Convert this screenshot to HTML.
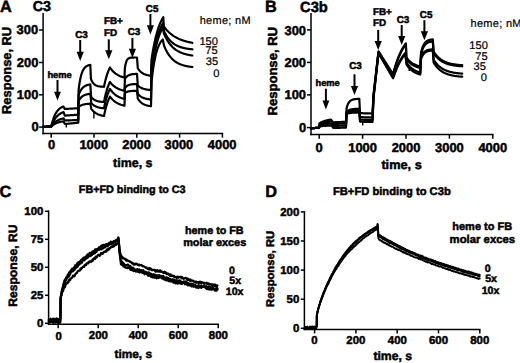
<!DOCTYPE html>
<html><head><meta charset="utf-8"><style>
html,body{margin:0;padding:0;background:#fff;}
svg{display:block;}
text{font-family:"Liberation Sans",sans-serif;fill:#000;stroke:#000;stroke-width:0.50px;text-rendering:geometricPrecision;}
</style></head><body>
<svg width="520" height="363" viewBox="0 0 520 363">
<rect width="520" height="363" fill="#fff"/>
<line x1="43.10" y1="13.00" x2="43.10" y2="134.25" stroke="#000" stroke-width="1.50"/>
<line x1="42.35" y1="133.50" x2="223.15" y2="133.50" stroke="#000" stroke-width="1.50"/>
<line x1="39.10" y1="30.00" x2="43.10" y2="30.00" stroke="#000" stroke-width="1.50"/>
<text x="38.16" y="34.40" font-size="12.92" font-weight="bold" text-anchor="end">300</text>
<line x1="39.10" y1="62.50" x2="43.10" y2="62.50" stroke="#000" stroke-width="1.50"/>
<text x="38.42" y="66.82" font-size="12.92" font-weight="bold" text-anchor="end">200</text>
<line x1="39.10" y1="94.80" x2="43.10" y2="94.80" stroke="#000" stroke-width="1.50"/>
<text x="38.42" y="99.12" font-size="12.92" font-weight="bold" text-anchor="end">100</text>
<line x1="39.10" y1="127.10" x2="43.10" y2="127.10" stroke="#000" stroke-width="1.50"/>
<text x="38.68" y="131.34" font-size="12.92" font-weight="bold" text-anchor="end">0</text>
<line x1="51.20" y1="133.50" x2="51.20" y2="137.70" stroke="#000" stroke-width="1.50"/>
<text x="51.50" y="149.21" font-size="12.92" font-weight="bold" text-anchor="middle">0</text>
<line x1="94.00" y1="133.50" x2="94.00" y2="137.70" stroke="#000" stroke-width="1.50"/>
<text x="93.80" y="149.25" font-size="12.92" font-weight="bold" text-anchor="middle">1000</text>
<line x1="136.80" y1="133.50" x2="136.80" y2="137.70" stroke="#000" stroke-width="1.50"/>
<text x="136.60" y="149.25" font-size="12.92" font-weight="bold" text-anchor="middle">2000</text>
<line x1="179.60" y1="133.50" x2="179.60" y2="137.70" stroke="#000" stroke-width="1.50"/>
<text x="178.90" y="149.29" font-size="12.92" font-weight="bold" text-anchor="middle">3000</text>
<line x1="222.40" y1="133.50" x2="222.40" y2="137.70" stroke="#000" stroke-width="1.50"/>
<text x="222.20" y="149.25" font-size="12.92" font-weight="bold" text-anchor="middle">4000</text>
<text x="0.08" y="12.29" font-size="16.31" font-weight="bold" text-anchor="start">A</text>
<text x="32.72" y="10.80" font-size="14.29" font-weight="bold" text-anchor="start">C3</text>
<text x="132.78" y="167.17" font-size="12.45" font-weight="bold" text-anchor="middle">time, s</text>
<text x="0" y="0" font-size="12.85" font-weight="bold" text-anchor="middle" transform="translate(10.98 70.39) rotate(-90)">Response, RU</text>
<text x="199.66" y="23.72" font-size="10.98" font-weight="normal" text-anchor="start" letter-spacing="0.30" style="stroke-width:0.2px">heme; nM</text>
<text x="217.98" y="44.75" font-size="11.12" font-weight="normal" text-anchor="end" style="stroke-width:0.2px">150</text>
<text x="217.59" y="54.18" font-size="11.12" font-weight="normal" text-anchor="end" style="stroke-width:0.2px">75</text>
<text x="218.14" y="65.19" font-size="11.12" font-weight="normal" text-anchor="end" style="stroke-width:0.2px">35</text>
<text x="219.34" y="77.45" font-size="11.12" font-weight="normal" text-anchor="end" style="stroke-width:0.2px">0</text>
<text x="59.60" y="77.91" font-size="9.32" font-weight="bold" text-anchor="middle">heme</text>
<line x1="57.50" y1="80.00" x2="57.50" y2="92.70" stroke="#000" stroke-width="2.00"/>
<path d="M54.10 91.70 L60.90 91.70 L57.50 100.40 Z" fill="#000"/>
<text x="81.50" y="38.41" font-size="9.87" font-weight="bold" text-anchor="middle">C3</text>
<line x1="80.20" y1="40.00" x2="80.20" y2="52.70" stroke="#000" stroke-width="2.00"/>
<path d="M76.60 51.70 L83.80 51.70 L80.20 60.90 Z" fill="#000"/>
<text x="113.33" y="24.18" font-size="9.87" font-weight="bold" text-anchor="middle">FB+</text>
<text x="110.51" y="35.78" font-size="9.87" font-weight="bold" text-anchor="middle">FD</text>
<line x1="108.80" y1="39.30" x2="108.80" y2="51.20" stroke="#000" stroke-width="2.00"/>
<path d="M105.20 50.20 L112.40 50.20 L108.80 59.20 Z" fill="#000"/>
<text x="133.94" y="35.49" font-size="9.87" font-weight="bold" text-anchor="middle">C3</text>
<line x1="132.40" y1="37.90" x2="132.40" y2="49.80" stroke="#000" stroke-width="2.00"/>
<path d="M128.80 48.80 L136.00 48.80 L132.40 57.90 Z" fill="#000"/>
<text x="152.10" y="11.79" font-size="9.87" font-weight="bold" text-anchor="middle">C5</text>
<line x1="150.40" y1="14.00" x2="150.40" y2="26.30" stroke="#000" stroke-width="2.00"/>
<path d="M146.80 25.30 L154.00 25.30 L150.40 34.40 Z" fill="#000"/>
<path d="M43.00 126.80 L43.41 126.79 L43.82 126.78 L44.23 126.77 L44.64 126.76 L45.05 126.75 L45.46 126.74 L45.87 126.73 L46.28 126.72 L46.69 126.71 L47.10 126.70 L47.51 126.69 L47.92 126.68 L48.33 126.67 L48.74 126.66 L49.15 126.65 L49.56 126.64 L49.97 126.63 L50.38 126.62 L50.79 126.61 L51.20 126.60 L51.61 124.88 L52.01 123.29 L52.42 121.82 L52.83 120.47 L53.24 119.22 L53.64 118.08 L54.05 117.02 L54.46 116.04 L54.86 115.14 L55.27 114.31 L55.68 113.55 L56.09 112.85 L56.49 112.20 L56.90 111.60 L57.31 111.05 L57.71 110.54 L58.12 110.07 L58.53 109.64 L58.94 109.24 L59.34 108.87 L59.75 108.53 L60.16 108.22 L60.56 107.93 L60.97 107.67 L61.38 107.42 L61.79 107.20 L62.19 106.99 L62.60 106.80 L63.40 106.40 L63.87 107.27 L64.33 108.13 L64.80 109.00 L65.21 108.98 L65.62 108.95 L66.03 108.93 L66.44 108.90 L66.85 108.88 L67.25 108.85 L67.66 108.83 L68.07 108.81 L68.48 108.78 L68.89 108.76 L69.30 108.73 L69.71 108.71 L70.12 108.68 L70.53 108.66 L70.94 108.64 L71.35 108.61 L71.75 108.59 L72.16 108.56 L72.57 108.54 L72.98 108.52 L73.39 108.49 L73.80 108.47 L74.21 108.44 L74.62 108.42 L75.03 108.39 L75.44 108.37 L75.85 108.35 L76.25 108.32 L76.66 108.30 L77.07 108.27 L77.48 108.25 L77.89 108.22 L78.30 108.20 L78.60 90.00 L79.00 86.78 L79.41 83.96 L79.81 81.49 L80.21 79.34 L80.62 77.46 L81.02 75.81 L81.42 74.37 L81.83 73.12 L82.23 72.02 L82.63 71.06 L83.04 70.22 L83.44 69.48 L83.84 68.84 L84.25 68.28 L84.65 67.79 L85.06 67.36 L85.46 66.99 L85.86 66.66 L86.27 66.37 L86.67 66.12 L87.07 65.90 L87.48 65.71 L87.88 65.54 L88.28 65.40 L88.69 65.27 L89.09 65.16 L89.49 65.06 L89.90 64.97 L90.30 64.90 L90.90 78.70 L91.31 79.75 L91.72 80.66 L92.13 81.46 L92.54 82.15 L92.95 82.76 L93.36 83.29 L93.77 83.75 L94.18 84.15 L94.58 84.50 L94.99 84.81 L95.40 85.08 L95.81 85.31 L96.22 85.51 L96.63 85.69 L97.04 85.84 L97.45 85.98 L97.86 86.10 L98.27 86.20 L98.68 86.29 L99.09 86.37 L99.50 86.44 L99.91 86.50 L100.32 86.55 L100.72 86.59 L101.13 86.63 L101.54 86.67 L101.95 86.70 L102.36 86.72 L102.77 86.75 L103.18 86.77 L103.59 86.78 L104.00 86.80 L104.40 84.83 L104.80 82.99 L105.20 81.27 L105.60 79.65 L106.00 78.15 L106.40 76.73 L106.80 75.41 L107.20 74.18 L107.60 73.02 L108.00 71.94 L108.40 70.93 L108.80 69.99 L109.20 69.10 L109.60 68.27 L110.00 67.50 L110.40 68.09 L110.81 68.66 L111.21 69.19 L111.61 69.70 L112.01 70.19 L112.42 70.65 L112.82 71.09 L113.22 71.50 L113.62 71.90 L114.03 72.27 L114.43 72.63 L114.83 72.97 L115.24 73.30 L115.64 73.61 L116.04 73.90 L116.44 74.18 L116.85 74.44 L117.25 74.69 L117.65 74.93 L118.06 75.16 L118.46 75.38 L118.86 75.58 L119.26 75.78 L119.67 75.97 L120.07 76.14 L120.47 76.31 L120.88 76.47 L121.28 76.62 L121.68 76.77 L122.08 76.91 L122.49 77.04 L122.89 77.16 L123.29 77.28 L123.69 77.39 L124.10 77.50 L124.50 77.60 L124.90 68.00 L125.30 65.52 L125.71 63.63 L126.11 62.18 L126.51 61.08 L126.92 60.23 L127.32 59.59 L127.72 59.10 L128.13 58.72 L128.53 58.43 L128.93 58.21 L129.34 58.04 L129.74 57.91 L130.14 57.82 L130.55 57.74 L130.95 57.68 L131.35 57.64 L131.76 57.61 L132.16 57.58 L132.56 57.56 L132.97 57.55 L133.37 57.53 L133.77 57.53 L134.18 57.52 L134.58 57.51 L134.98 57.51 L135.39 57.51 L135.79 57.50 L136.19 57.50 L136.60 57.50 L137.00 57.50 L137.40 62.80 L137.80 68.10 L138.21 68.76 L138.62 69.36 L139.04 69.92 L139.45 70.43 L139.86 70.90 L140.28 71.34 L140.69 71.74 L141.10 72.11 L141.51 72.45 L141.93 72.76 L142.34 73.05 L142.75 73.31 L143.16 73.55 L143.58 73.78 L143.99 73.99 L144.40 74.18 L144.81 74.35 L145.22 74.51 L145.64 74.66 L146.05 74.80 L146.46 74.93 L146.88 75.04 L147.29 75.15 L147.70 75.25 L148.11 75.34 L148.53 75.42 L148.94 75.50 L149.35 75.57 L149.76 75.63 L150.18 75.69 L150.59 75.75 L151.00 75.80 L151.50 60.00 L151.91 57.25 L152.31 54.63 L152.72 52.15 L153.13 49.78 L153.53 47.54 L153.94 45.40 L154.35 43.38 L154.76 41.45 L155.16 39.62 L155.57 37.87 L155.98 36.22 L156.38 34.65 L156.79 33.15 L157.20 31.73 L157.60 30.38 L158.01 29.10 L158.42 27.88 L158.82 26.72 L159.23 25.62 L159.64 24.57 L160.04 23.58 L160.45 22.63 L160.86 21.73 L161.27 20.88 L161.67 20.06 L162.08 19.29 L162.49 18.56 L162.89 17.86 L163.30 17.20 L163.80 26.50 L164.20 27.03 L164.61 27.55 L165.01 28.05 L165.41 28.54 L165.81 29.01 L166.22 29.47 L166.62 29.92 L167.02 30.35 L167.43 30.77 L167.83 31.18 L168.23 31.58 L168.63 31.97 L169.04 32.34 L169.44 32.71 L169.84 33.06 L170.25 33.41 L170.65 33.74 L171.05 34.07 L171.45 34.39 L171.86 34.69 L172.26 34.99 L172.66 35.28 L173.06 35.57 L173.47 35.84 L173.87 36.11 L174.27 36.36 L174.68 36.62 L175.08 36.86 L175.48 37.10 L175.88 37.33 L176.29 37.55 L176.69 37.77 L177.09 37.98 L177.50 38.19 L177.90 38.39 L178.30 38.58 L178.70 38.77 L179.11 38.95 L179.51 39.13 L179.91 39.30 L180.32 39.47 L180.72 39.63 L181.12 39.79 L181.52 39.95 L181.93 40.10 L182.33 40.24 L182.73 40.38 L183.14 40.52 L183.54 40.66 L183.94 40.78 L184.34 40.91 L184.75 41.03 L185.15 41.15 L185.55 41.27 L185.95 41.38 L186.36 41.49 L186.76 41.60 L187.16 41.70 L187.57 41.80 L187.97 41.90 L188.37 41.99 L188.77 42.08 L189.18 42.17 L189.58 42.26 L189.98 42.34 L190.39 42.42 L190.79 42.50 L191.19 42.58 L191.59 42.66 L192.00 42.73 L192.40 42.80" fill="none" stroke="#000" stroke-width="2.20" stroke-linejoin="round" stroke-linecap="round" />
<path d="M43.00 126.80 L43.41 126.79 L43.82 126.78 L44.23 126.77 L44.64 126.76 L45.05 126.75 L45.46 126.74 L45.87 126.73 L46.28 126.72 L46.69 126.71 L47.10 126.70 L47.51 126.69 L47.92 126.68 L48.33 126.67 L48.74 126.66 L49.15 126.65 L49.56 126.64 L49.97 126.63 L50.38 126.62 L50.79 126.61 L51.20 126.60 L51.61 125.51 L52.01 124.49 L52.42 123.54 L52.83 122.65 L53.23 121.82 L53.64 121.04 L54.05 120.32 L54.46 119.64 L54.86 119.00 L55.27 118.41 L55.68 117.86 L56.08 117.34 L56.49 116.86 L56.90 116.41 L57.30 115.99 L57.71 115.59 L58.12 115.22 L58.52 114.88 L58.93 114.56 L59.34 114.26 L59.74 113.98 L60.15 113.71 L60.56 113.47 L60.97 113.24 L61.37 113.02 L61.78 112.82 L62.19 112.64 L62.59 112.46 L63.00 112.30 L63.60 112.10 L64.20 113.85 L64.80 115.60 L65.21 115.57 L65.62 115.55 L66.03 115.52 L66.44 115.49 L66.85 115.46 L67.25 115.44 L67.66 115.41 L68.07 115.38 L68.48 115.35 L68.89 115.33 L69.30 115.30 L69.71 115.27 L70.12 115.25 L70.53 115.22 L70.94 115.19 L71.35 115.16 L71.75 115.14 L72.16 115.11 L72.57 115.08 L72.98 115.05 L73.39 115.03 L73.80 115.00 L74.21 114.97 L74.62 114.95 L75.03 114.92 L75.44 114.89 L75.85 114.86 L76.25 114.84 L76.66 114.81 L77.07 114.78 L77.48 114.75 L77.89 114.73 L78.30 114.70 L78.60 95.00 L79.00 93.93 L79.41 92.95 L79.81 92.08 L80.21 91.28 L80.62 90.56 L81.02 89.91 L81.42 89.33 L81.83 88.80 L82.23 88.32 L82.63 87.88 L83.04 87.49 L83.44 87.14 L83.84 86.82 L84.25 86.53 L84.65 86.27 L85.06 86.03 L85.46 85.82 L85.86 85.62 L86.27 85.45 L86.67 85.29 L87.07 85.15 L87.48 85.02 L87.88 84.90 L88.28 84.79 L88.69 84.70 L89.09 84.61 L89.49 84.53 L89.90 84.46 L90.30 84.40 L91.10 96.60 L91.50 97.14 L91.91 97.63 L92.31 98.07 L92.71 98.47 L93.12 98.83 L93.52 99.15 L93.92 99.45 L94.32 99.71 L94.73 99.95 L95.13 100.17 L95.53 100.37 L95.94 100.55 L96.34 100.71 L96.74 100.85 L97.15 100.98 L97.55 101.10 L97.95 101.21 L98.36 101.31 L98.76 101.39 L99.16 101.47 L99.57 101.55 L99.97 101.61 L100.37 101.67 L100.78 101.72 L101.18 101.77 L101.58 101.81 L101.98 101.85 L102.39 101.89 L102.79 101.92 L103.19 101.95 L103.60 101.98 L104.00 102.00 L104.40 99.96 L104.80 98.05 L105.20 96.26 L105.60 94.59 L106.00 93.03 L106.40 91.57 L106.80 90.20 L107.20 88.92 L107.60 87.72 L108.00 86.60 L108.40 85.56 L108.80 84.58 L109.20 83.66 L109.60 82.80 L110.00 82.00 L110.40 82.52 L110.81 83.01 L111.21 83.47 L111.61 83.92 L112.01 84.34 L112.42 84.74 L112.82 85.12 L113.22 85.49 L113.62 85.83 L114.03 86.16 L114.43 86.47 L114.83 86.77 L115.24 87.05 L115.64 87.32 L116.04 87.57 L116.44 87.82 L116.85 88.05 L117.25 88.27 L117.65 88.48 L118.06 88.67 L118.46 88.86 L118.86 89.04 L119.26 89.21 L119.67 89.38 L120.07 89.53 L120.47 89.68 L120.88 89.82 L121.28 89.95 L121.68 90.07 L122.08 90.19 L122.49 90.31 L122.89 90.42 L123.29 90.52 L123.69 90.62 L124.10 90.71 L124.50 90.80 L124.90 79.00 L125.30 78.35 L125.71 77.78 L126.11 77.28 L126.51 76.84 L126.92 76.46 L127.32 76.13 L127.72 75.83 L128.13 75.58 L128.53 75.36 L128.93 75.16 L129.34 74.99 L129.74 74.84 L130.14 74.71 L130.55 74.60 L130.95 74.50 L131.35 74.41 L131.76 74.34 L132.16 74.27 L132.56 74.21 L132.97 74.16 L133.37 74.12 L133.77 74.08 L134.18 74.04 L134.58 74.01 L134.98 73.99 L135.39 73.97 L135.79 73.95 L136.19 73.93 L136.60 73.91 L137.00 73.90 L137.40 79.70 L137.80 85.50 L138.21 85.88 L138.62 86.24 L139.04 86.56 L139.45 86.86 L139.86 87.14 L140.28 87.39 L140.69 87.63 L141.10 87.84 L141.51 88.04 L141.93 88.22 L142.34 88.39 L142.75 88.55 L143.16 88.69 L143.58 88.82 L143.99 88.94 L144.40 89.05 L144.81 89.15 L145.22 89.25 L145.64 89.34 L146.05 89.42 L146.46 89.49 L146.88 89.56 L147.29 89.62 L147.70 89.68 L148.11 89.73 L148.53 89.78 L148.94 89.82 L149.35 89.86 L149.76 89.90 L150.18 89.94 L150.59 89.97 L151.00 90.00 L151.50 66.00 L151.90 63.25 L152.31 60.63 L152.71 58.14 L153.11 55.78 L153.52 53.53 L153.92 51.39 L154.32 49.35 L154.73 47.42 L155.13 45.58 L155.53 43.83 L155.94 42.17 L156.34 40.59 L156.74 39.09 L157.15 37.66 L157.55 36.30 L157.96 35.01 L158.36 33.78 L158.76 32.61 L159.17 31.50 L159.57 30.45 L159.97 29.44 L160.38 28.49 L160.78 27.58 L161.18 26.72 L161.59 25.90 L161.99 25.12 L162.39 24.38 L162.80 23.67 L163.20 23.00 L163.90 31.00 L164.30 31.83 L164.70 32.63 L165.10 33.39 L165.51 34.12 L165.91 34.82 L166.31 35.49 L166.71 36.12 L167.11 36.73 L167.51 37.32 L167.91 37.87 L168.32 38.41 L168.72 38.92 L169.12 39.41 L169.52 39.87 L169.92 40.32 L170.32 40.75 L170.72 41.15 L171.13 41.54 L171.53 41.92 L171.93 42.28 L172.33 42.62 L172.73 42.94 L173.13 43.26 L173.53 43.55 L173.94 43.84 L174.34 44.11 L174.74 44.38 L175.14 44.63 L175.54 44.86 L175.94 45.09 L176.34 45.31 L176.75 45.52 L177.15 45.72 L177.55 45.91 L177.95 46.09 L178.35 46.27 L178.75 46.44 L179.15 46.60 L179.55 46.75 L179.96 46.90 L180.36 47.04 L180.76 47.17 L181.16 47.30 L181.56 47.42 L181.96 47.54 L182.36 47.65 L182.77 47.76 L183.17 47.86 L183.57 47.96 L183.97 48.05 L184.37 48.14 L184.77 48.23 L185.17 48.31 L185.58 48.39 L185.98 48.46 L186.38 48.53 L186.78 48.60 L187.18 48.67 L187.58 48.73 L187.98 48.79 L188.39 48.85 L188.79 48.90 L189.19 48.95 L189.59 49.00 L189.99 49.05 L190.39 49.10 L190.79 49.14 L191.20 49.18 L191.60 49.22 L192.00 49.26 L192.40 49.30" fill="none" stroke="#000" stroke-width="2.20" stroke-linejoin="round" stroke-linecap="round" />
<path d="M43.00 126.80 L43.41 126.79 L43.82 126.78 L44.23 126.77 L44.64 126.76 L45.05 126.75 L45.46 126.74 L45.87 126.73 L46.28 126.72 L46.69 126.71 L47.10 126.70 L47.51 126.69 L47.92 126.68 L48.33 126.67 L48.74 126.66 L49.15 126.65 L49.56 126.64 L49.97 126.63 L50.38 126.62 L50.79 126.61 L51.20 126.60 L51.61 125.98 L52.01 125.41 L52.42 124.87 L52.83 124.36 L53.23 123.89 L53.64 123.45 L54.05 123.04 L54.46 122.66 L54.86 122.30 L55.27 121.96 L55.68 121.65 L56.08 121.36 L56.49 121.08 L56.90 120.83 L57.30 120.59 L57.71 120.36 L58.12 120.16 L58.52 119.96 L58.93 119.78 L59.34 119.61 L59.74 119.45 L60.15 119.30 L60.56 119.16 L60.97 119.03 L61.37 118.91 L61.78 118.80 L62.19 118.69 L62.59 118.59 L63.00 118.50 L63.60 118.30 L64.20 119.40 L64.80 120.50 L65.21 120.48 L65.62 120.47 L66.03 120.45 L66.44 120.44 L66.85 120.42 L67.25 120.41 L67.66 120.39 L68.07 120.38 L68.48 120.36 L68.89 120.35 L69.30 120.33 L69.71 120.32 L70.12 120.30 L70.53 120.29 L70.94 120.27 L71.35 120.26 L71.75 120.24 L72.16 120.23 L72.57 120.21 L72.98 120.20 L73.39 120.18 L73.80 120.17 L74.21 120.15 L74.62 120.14 L75.03 120.12 L75.44 120.11 L75.85 120.09 L76.25 120.08 L76.66 120.06 L77.07 120.05 L77.48 120.03 L77.89 120.02 L78.30 120.00 L78.60 101.00 L79.00 100.27 L79.41 99.61 L79.81 99.01 L80.21 98.47 L80.62 97.99 L81.02 97.55 L81.42 97.15 L81.83 96.79 L82.23 96.46 L82.63 96.17 L83.04 95.90 L83.44 95.66 L83.84 95.44 L84.25 95.25 L84.65 95.07 L85.06 94.91 L85.46 94.76 L85.86 94.63 L86.27 94.51 L86.67 94.40 L87.07 94.31 L87.48 94.22 L87.88 94.14 L88.28 94.07 L88.69 94.00 L89.09 93.94 L89.49 93.89 L89.90 93.84 L90.30 93.80 L90.80 98.40 L91.30 103.00 L91.71 103.45 L92.12 103.87 L92.53 104.25 L92.94 104.61 L93.35 104.93 L93.76 105.23 L94.17 105.51 L94.58 105.77 L94.99 106.00 L95.40 106.22 L95.81 106.42 L96.22 106.60 L96.63 106.77 L97.04 106.93 L97.45 107.07 L97.85 107.20 L98.26 107.32 L98.67 107.44 L99.08 107.54 L99.49 107.64 L99.90 107.72 L100.31 107.81 L100.72 107.88 L101.13 107.95 L101.54 108.01 L101.95 108.07 L102.36 108.12 L102.77 108.17 L103.18 108.22 L103.59 108.26 L104.00 108.30 L104.40 106.32 L104.80 104.47 L105.20 102.74 L105.60 101.12 L106.00 99.60 L106.40 98.18 L106.80 96.86 L107.20 95.61 L107.60 94.45 L108.00 93.37 L108.40 92.35 L108.80 91.40 L109.20 90.51 L109.60 89.68 L110.00 88.90 L110.40 89.49 L110.81 90.06 L111.21 90.59 L111.61 91.10 L112.01 91.59 L112.42 92.05 L112.82 92.49 L113.22 92.90 L113.62 93.30 L114.03 93.67 L114.43 94.03 L114.83 94.37 L115.24 94.70 L115.64 95.01 L116.04 95.30 L116.44 95.58 L116.85 95.84 L117.25 96.09 L117.65 96.33 L118.06 96.56 L118.46 96.78 L118.86 96.98 L119.26 97.18 L119.67 97.37 L120.07 97.54 L120.47 97.71 L120.88 97.87 L121.28 98.02 L121.68 98.17 L122.08 98.31 L122.49 98.44 L122.89 98.56 L123.29 98.68 L123.69 98.79 L124.10 98.90 L124.50 99.00 L124.90 88.00 L125.30 87.49 L125.71 87.04 L126.11 86.65 L126.51 86.31 L126.92 86.01 L127.32 85.75 L127.72 85.52 L128.13 85.32 L128.53 85.14 L128.93 84.99 L129.34 84.86 L129.74 84.74 L130.14 84.64 L130.55 84.55 L130.95 84.47 L131.35 84.40 L131.76 84.34 L132.16 84.29 L132.56 84.24 L132.97 84.20 L133.37 84.17 L133.77 84.14 L134.18 84.11 L134.58 84.09 L134.98 84.07 L135.39 84.05 L135.79 84.04 L136.19 84.02 L136.60 84.01 L137.00 84.00 L137.40 88.85 L137.80 93.70 L138.21 94.19 L138.62 94.65 L139.04 95.07 L139.45 95.46 L139.86 95.81 L140.28 96.14 L140.69 96.44 L141.10 96.72 L141.51 96.97 L141.93 97.21 L142.34 97.43 L142.75 97.62 L143.16 97.81 L143.58 97.98 L143.99 98.13 L144.40 98.28 L144.81 98.41 L145.22 98.53 L145.64 98.64 L146.05 98.75 L146.46 98.84 L146.88 98.93 L147.29 99.01 L147.70 99.08 L148.11 99.15 L148.53 99.21 L148.94 99.27 L149.35 99.33 L149.76 99.37 L150.18 99.42 L150.59 99.46 L151.00 99.50 L151.50 72.00 L151.91 69.05 L152.32 66.24 L152.73 63.58 L153.14 61.04 L153.55 58.64 L153.96 56.35 L154.38 54.18 L154.79 52.12 L155.20 50.16 L155.61 48.30 L156.02 46.53 L156.43 44.86 L156.84 43.26 L157.25 41.75 L157.66 40.31 L158.07 38.94 L158.48 37.64 L158.89 36.41 L159.30 35.23 L159.71 34.12 L160.12 33.06 L160.54 32.06 L160.95 31.10 L161.36 30.20 L161.77 29.33 L162.18 28.52 L162.59 27.74 L163.00 27.00 L163.45 30.25 L163.90 33.50 L164.30 34.42 L164.70 35.30 L165.10 36.15 L165.51 36.96 L165.91 37.75 L166.31 38.50 L166.71 39.22 L167.11 39.91 L167.51 40.58 L167.91 41.22 L168.32 41.84 L168.72 42.43 L169.12 42.99 L169.52 43.54 L169.92 44.06 L170.32 44.57 L170.72 45.05 L171.13 45.51 L171.53 45.96 L171.93 46.39 L172.33 46.80 L172.73 47.20 L173.13 47.58 L173.53 47.94 L173.94 48.29 L174.34 48.63 L174.74 48.95 L175.14 49.26 L175.54 49.56 L175.94 49.85 L176.34 50.12 L176.75 50.39 L177.15 50.64 L177.55 50.89 L177.95 51.12 L178.35 51.35 L178.75 51.56 L179.15 51.77 L179.55 51.97 L179.96 52.16 L180.36 52.35 L180.76 52.52 L181.16 52.69 L181.56 52.86 L181.96 53.02 L182.36 53.17 L182.77 53.31 L183.17 53.45 L183.57 53.58 L183.97 53.71 L184.37 53.84 L184.77 53.95 L185.17 54.07 L185.58 54.18 L185.98 54.28 L186.38 54.38 L186.78 54.48 L187.18 54.57 L187.58 54.66 L187.98 54.75 L188.39 54.83 L188.79 54.91 L189.19 54.99 L189.59 55.06 L189.99 55.13 L190.39 55.20 L190.79 55.26 L191.20 55.33 L191.60 55.39 L192.00 55.44 L192.40 55.50" fill="none" stroke="#000" stroke-width="2.20" stroke-linejoin="round" stroke-linecap="round" />
<path d="M43.00 126.80 L43.41 126.79 L43.82 126.78 L44.23 126.77 L44.64 126.76 L45.05 126.75 L45.46 126.74 L45.87 126.73 L46.28 126.72 L46.69 126.71 L47.10 126.70 L47.51 126.69 L47.92 126.68 L48.33 126.67 L48.74 126.66 L49.15 126.65 L49.56 126.64 L49.97 126.63 L50.38 126.62 L50.79 126.61 L51.20 126.60 L51.61 126.21 L52.01 125.84 L52.42 125.50 L52.83 125.17 L53.24 124.87 L53.64 124.59 L54.05 124.33 L54.46 124.09 L54.86 123.86 L55.27 123.65 L55.68 123.45 L56.09 123.26 L56.49 123.09 L56.90 122.92 L57.31 122.77 L57.71 122.63 L58.12 122.50 L58.53 122.37 L58.94 122.26 L59.34 122.15 L59.75 122.05 L60.16 121.95 L60.56 121.86 L60.97 121.78 L61.38 121.70 L61.79 121.63 L62.19 121.56 L62.60 121.50 L63.20 121.30 L63.65 121.97 L64.10 122.65 L64.55 123.33 L65.00 124.00 L65.40 123.96 L65.81 123.92 L66.21 123.88 L66.61 123.84 L67.02 123.80 L67.42 123.76 L67.82 123.72 L68.22 123.68 L68.63 123.65 L69.03 123.61 L69.43 123.57 L69.84 123.53 L70.24 123.49 L70.64 123.45 L71.05 123.41 L71.45 123.37 L71.85 123.33 L72.25 123.29 L72.66 123.25 L73.06 123.21 L73.46 123.17 L73.87 123.13 L74.27 123.09 L74.67 123.05 L75.08 123.02 L75.48 122.98 L75.88 122.94 L76.28 122.90 L76.69 122.86 L77.09 122.82 L77.49 122.78 L77.90 122.74 L78.30 122.70 L78.60 107.00 L79.00 106.67 L79.41 106.36 L79.81 106.09 L80.21 105.84 L80.62 105.62 L81.02 105.42 L81.42 105.23 L81.83 105.07 L82.23 104.92 L82.63 104.78 L83.04 104.66 L83.44 104.55 L83.84 104.45 L84.25 104.36 L84.65 104.28 L85.06 104.21 L85.46 104.14 L85.86 104.08 L86.27 104.03 L86.67 103.98 L87.07 103.93 L87.48 103.89 L87.88 103.86 L88.28 103.82 L88.69 103.79 L89.09 103.77 L89.49 103.74 L89.90 103.72 L90.30 103.70 L90.80 106.25 L91.30 108.80 L91.71 109.34 L92.12 109.84 L92.53 110.32 L92.94 110.76 L93.35 111.17 L93.76 111.55 L94.17 111.91 L94.58 112.25 L94.99 112.56 L95.40 112.85 L95.81 113.12 L96.22 113.38 L96.63 113.62 L97.04 113.84 L97.45 114.05 L97.85 114.24 L98.26 114.42 L98.67 114.59 L99.08 114.75 L99.49 114.90 L99.90 115.03 L100.31 115.16 L100.72 115.28 L101.13 115.40 L101.54 115.50 L101.95 115.60 L102.36 115.69 L102.77 115.78 L103.18 115.86 L103.59 115.93 L104.00 116.00 L104.40 114.02 L104.80 112.17 L105.20 110.44 L105.60 108.82 L106.00 107.30 L106.40 105.88 L106.80 104.56 L107.20 103.31 L107.60 102.15 L108.00 101.07 L108.40 100.05 L108.80 99.10 L109.20 98.21 L109.60 97.38 L110.00 96.60 L110.40 97.13 L110.81 97.64 L111.21 98.12 L111.61 98.58 L112.01 99.02 L112.42 99.44 L112.82 99.83 L113.22 100.21 L113.62 100.56 L114.03 100.90 L114.43 101.22 L114.83 101.53 L115.24 101.82 L115.64 102.10 L116.04 102.36 L116.44 102.62 L116.85 102.85 L117.25 103.08 L117.65 103.30 L118.06 103.50 L118.46 103.70 L118.86 103.88 L119.26 104.06 L119.67 104.23 L120.07 104.39 L120.47 104.54 L120.88 104.68 L121.28 104.82 L121.68 104.95 L122.08 105.07 L122.49 105.19 L122.89 105.30 L123.29 105.41 L123.69 105.51 L124.10 105.61 L124.50 105.70 L124.90 93.00 L125.30 92.72 L125.71 92.47 L126.11 92.26 L126.51 92.07 L126.92 91.90 L127.32 91.76 L127.72 91.63 L128.13 91.52 L128.53 91.43 L128.93 91.34 L129.34 91.27 L129.74 91.21 L130.14 91.15 L130.55 91.10 L130.95 91.06 L131.35 91.02 L131.76 90.99 L132.16 90.96 L132.56 90.93 L132.97 90.91 L133.37 90.89 L133.77 90.88 L134.18 90.86 L134.58 90.85 L134.98 90.84 L135.39 90.83 L135.79 90.82 L136.19 90.81 L136.60 90.81 L137.00 90.80 L137.40 94.65 L137.80 98.50 L138.21 99.16 L138.62 99.76 L139.04 100.32 L139.45 100.83 L139.86 101.30 L140.28 101.74 L140.69 102.14 L141.10 102.51 L141.51 102.85 L141.93 103.16 L142.34 103.45 L142.75 103.71 L143.16 103.95 L143.58 104.18 L143.99 104.39 L144.40 104.58 L144.81 104.75 L145.22 104.91 L145.64 105.06 L146.05 105.20 L146.46 105.33 L146.88 105.44 L147.29 105.55 L147.70 105.65 L148.11 105.74 L148.53 105.82 L148.94 105.90 L149.35 105.97 L149.76 106.03 L150.18 106.09 L150.59 106.15 L151.00 106.20 L151.50 82.00 L151.90 78.32 L152.31 74.93 L152.71 71.80 L153.11 68.91 L153.52 66.24 L153.92 63.79 L154.32 61.52 L154.73 59.43 L155.13 57.50 L155.54 55.72 L155.94 54.08 L156.34 52.56 L156.75 51.17 L157.15 49.88 L157.55 48.69 L157.96 47.59 L158.36 46.58 L158.76 45.65 L159.17 44.79 L159.57 43.99 L159.98 43.26 L160.38 42.58 L160.78 41.96 L161.19 41.39 L161.59 40.86 L161.99 40.37 L162.40 39.92 L162.80 39.50 L163.40 42.50 L164.00 45.50 L164.40 46.48 L164.80 47.41 L165.20 48.30 L165.60 49.16 L166.00 49.97 L166.40 50.76 L166.80 51.50 L167.20 52.22 L167.60 52.90 L168.00 53.56 L168.40 54.18 L168.80 54.78 L169.20 55.36 L169.60 55.90 L170.00 56.43 L170.40 56.93 L170.80 57.41 L171.20 57.87 L171.60 58.31 L172.00 58.72 L172.40 59.13 L172.80 59.51 L173.20 59.88 L173.60 60.23 L174.00 60.56 L174.40 60.89 L174.80 61.19 L175.20 61.49 L175.60 61.77 L176.00 62.04 L176.40 62.29 L176.80 62.54 L177.20 62.78 L177.60 63.00 L178.00 63.22 L178.40 63.42 L178.80 63.62 L179.20 63.81 L179.60 63.99 L180.00 64.16 L180.40 64.33 L180.80 64.48 L181.20 64.64 L181.60 64.78 L182.00 64.92 L182.40 65.05 L182.80 65.18 L183.20 65.30 L183.60 65.41 L184.00 65.52 L184.40 65.63 L184.80 65.73 L185.20 65.83 L185.60 65.92 L186.00 66.01 L186.40 66.09 L186.80 66.17 L187.20 66.25 L187.60 66.33 L188.00 66.40 L188.40 66.46 L188.80 66.53 L189.20 66.59 L189.60 66.65 L190.00 66.71 L190.40 66.76 L190.80 66.81 L191.20 66.86 L191.60 66.91 L192.00 66.96 L192.40 67.00" fill="none" stroke="#000" stroke-width="2.20" stroke-linejoin="round" stroke-linecap="round" />
<line x1="66.30" y1="123.50" x2="66.30" y2="127.60" stroke="#000" stroke-width="1.40"/>
<line x1="93.90" y1="111.50" x2="93.90" y2="118.60" stroke="#000" stroke-width="1.40"/>
<line x1="311.00" y1="13.00" x2="311.00" y2="135.25" stroke="#000" stroke-width="1.50"/>
<line x1="310.25" y1="134.50" x2="493.55" y2="134.50" stroke="#000" stroke-width="1.50"/>
<line x1="307.00" y1="29.90" x2="311.00" y2="29.90" stroke="#000" stroke-width="1.50"/>
<text x="306.00" y="34.50" font-size="12.92" font-weight="bold" text-anchor="end">300</text>
<line x1="307.00" y1="62.40" x2="311.00" y2="62.40" stroke="#000" stroke-width="1.50"/>
<text x="306.05" y="66.89" font-size="12.92" font-weight="bold" text-anchor="end">200</text>
<line x1="307.00" y1="94.90" x2="311.00" y2="94.90" stroke="#000" stroke-width="1.50"/>
<text x="306.05" y="99.39" font-size="12.92" font-weight="bold" text-anchor="end">100</text>
<line x1="307.00" y1="127.60" x2="311.00" y2="127.60" stroke="#000" stroke-width="1.50"/>
<text x="306.11" y="131.98" font-size="12.92" font-weight="bold" text-anchor="end">0</text>
<line x1="319.20" y1="134.50" x2="319.20" y2="138.70" stroke="#000" stroke-width="1.50"/>
<text x="319.20" y="151.80" font-size="12.92" font-weight="bold" text-anchor="middle">0</text>
<line x1="362.60" y1="134.50" x2="362.60" y2="138.70" stroke="#000" stroke-width="1.50"/>
<text x="362.60" y="151.80" font-size="12.92" font-weight="bold" text-anchor="middle">1000</text>
<line x1="406.00" y1="134.50" x2="406.00" y2="138.70" stroke="#000" stroke-width="1.50"/>
<text x="406.00" y="151.80" font-size="12.92" font-weight="bold" text-anchor="middle">2000</text>
<line x1="449.40" y1="134.50" x2="449.40" y2="138.70" stroke="#000" stroke-width="1.50"/>
<text x="449.40" y="151.80" font-size="12.92" font-weight="bold" text-anchor="middle">3000</text>
<line x1="492.80" y1="134.50" x2="492.80" y2="138.70" stroke="#000" stroke-width="1.50"/>
<text x="492.80" y="151.80" font-size="12.92" font-weight="bold" text-anchor="middle">4000</text>
<text x="265.08" y="11.53" font-size="16.31" font-weight="bold" text-anchor="start">B</text>
<text x="300.02" y="12.19" font-size="14.73" font-weight="bold" text-anchor="start">C3b</text>
<text x="401.58" y="168.55" font-size="12.75" font-weight="bold" text-anchor="middle">time, s</text>
<text x="0" y="0" font-size="13.07" font-weight="bold" text-anchor="middle" transform="translate(277.03 71.25) rotate(-90)">Response, RU</text>
<text x="470.50" y="26.60" font-size="10.99" font-weight="normal" text-anchor="start" letter-spacing="0.30" style="stroke-width:0.2px">heme; nM</text>
<text x="487.87" y="48.71" font-size="11.12" font-weight="normal" text-anchor="end" style="stroke-width:0.2px">150</text>
<text x="487.62" y="60.06" font-size="11.12" font-weight="normal" text-anchor="end" style="stroke-width:0.2px">75</text>
<text x="485.97" y="70.07" font-size="11.12" font-weight="normal" text-anchor="end" style="stroke-width:0.2px">35</text>
<text x="487.06" y="80.69" font-size="11.12" font-weight="normal" text-anchor="end" style="stroke-width:0.2px">0</text>
<text x="327.61" y="86.21" font-size="9.32" font-weight="bold" text-anchor="middle">heme</text>
<line x1="325.90" y1="88.70" x2="325.90" y2="101.40" stroke="#000" stroke-width="2.00"/>
<path d="M322.50 100.40 L329.30 100.40 L325.90 109.50 Z" fill="#000"/>
<text x="355.50" y="68.72" font-size="9.87" font-weight="bold" text-anchor="middle">C3</text>
<line x1="354.50" y1="74.30" x2="354.50" y2="87.00" stroke="#000" stroke-width="2.00"/>
<path d="M350.90 86.00 L358.10 86.00 L354.50 95.10 Z" fill="#000"/>
<text x="382.33" y="14.88" font-size="9.87" font-weight="bold" text-anchor="middle">FB+</text>
<text x="379.62" y="26.48" font-size="9.87" font-weight="bold" text-anchor="middle">FD</text>
<line x1="378.20" y1="29.90" x2="378.20" y2="41.90" stroke="#000" stroke-width="2.00"/>
<path d="M374.60 40.90 L381.80 40.90 L378.20 50.00 Z" fill="#000"/>
<text x="403.00" y="22.90" font-size="9.87" font-weight="bold" text-anchor="middle">C3</text>
<line x1="401.70" y1="25.00" x2="401.70" y2="37.00" stroke="#000" stroke-width="2.00"/>
<path d="M398.10 36.00 L405.30 36.00 L401.70 45.10 Z" fill="#000"/>
<text x="426.09" y="17.78" font-size="9.87" font-weight="bold" text-anchor="middle">C5</text>
<line x1="424.40" y1="20.20" x2="424.40" y2="32.20" stroke="#000" stroke-width="2.00"/>
<path d="M420.80 31.20 L428.00 31.20 L424.40 40.30 Z" fill="#000"/>
<path d="M311.00 128.40 L311.40 128.36 L311.80 128.32 L312.20 128.28 L312.60 128.24 L313.00 128.20 L313.40 128.16 L313.80 128.12 L314.20 128.08 L314.60 128.04 L315.00 128.00 L315.40 127.96 L315.80 127.92 L316.20 127.88 L316.60 127.84 L317.00 127.80 L317.40 127.76 L317.80 127.72 L318.20 127.68 L318.60 127.64 L319.00 127.60 L319.60 123.20 L320.01 122.96 L320.41 122.74 L320.82 122.53 L321.23 122.33 L321.64 122.14 L322.04 121.95 L322.45 121.78 L322.86 121.61 L323.26 121.46 L323.67 121.31 L324.08 121.17 L324.49 121.03 L324.89 120.91 L325.30 120.78 L325.71 120.67 L326.11 120.56 L326.52 120.46 L326.93 120.36 L327.34 120.26 L327.74 120.17 L328.15 120.09 L328.56 120.01 L328.96 119.93 L329.37 119.86 L329.78 119.79 L330.19 119.72 L330.59 119.66 L331.00 119.60 L331.40 120.14 L331.80 120.68 L332.20 121.22 L332.60 121.76 L333.00 122.30 L333.41 122.28 L333.81 122.27 L334.22 122.25 L334.62 122.24 L335.03 122.22 L335.44 122.21 L335.84 122.19 L336.25 122.17 L336.66 122.16 L337.06 122.14 L337.47 122.13 L337.88 122.11 L338.28 122.10 L338.69 122.08 L339.09 122.07 L339.50 122.05 L339.91 122.03 L340.31 122.02 L340.72 122.00 L341.12 121.99 L341.53 121.97 L341.94 121.96 L342.34 121.94 L342.75 121.92 L343.16 121.91 L343.56 121.89 L343.97 121.88 L344.38 121.86 L344.78 121.85 L345.19 121.83 L345.59 121.82 L346.00 121.80 L346.60 108.00 L347.01 106.62 L347.42 105.44 L347.83 104.44 L348.24 103.60 L348.65 102.88 L349.06 102.27 L349.47 101.75 L349.88 101.31 L350.29 100.94 L350.70 100.62 L351.11 100.35 L351.52 100.12 L351.93 99.93 L352.34 99.77 L352.75 99.63 L353.15 99.51 L353.56 99.41 L353.97 99.32 L354.38 99.25 L354.79 99.19 L355.20 99.14 L355.61 99.09 L356.02 99.05 L356.43 99.02 L356.84 99.00 L357.25 98.97 L357.66 98.95 L358.07 98.94 L358.48 98.92 L358.89 98.91 L359.30 98.90 L360.00 113.00 L360.40 113.04 L360.81 113.07 L361.21 113.10 L361.61 113.13 L362.02 113.16 L362.42 113.19 L362.82 113.21 L363.23 113.24 L363.63 113.26 L364.03 113.28 L364.44 113.30 L364.84 113.32 L365.24 113.33 L365.65 113.35 L366.05 113.36 L366.45 113.38 L366.85 113.39 L367.26 113.40 L367.66 113.41 L368.06 113.42 L368.47 113.43 L368.87 113.44 L369.27 113.45 L369.68 113.46 L370.08 113.46 L370.48 113.47 L370.89 113.48 L371.29 113.48 L371.69 113.49 L372.10 113.50 L372.50 113.50 L373.00 104.25 L373.50 95.00 L373.92 91.36 L374.33 87.72 L374.75 84.08 L375.17 80.43 L375.58 76.79 L376.00 73.15 L376.42 69.51 L376.83 65.87 L377.25 62.22 L377.67 58.58 L378.08 54.94 L378.50 51.30 L378.90 51.93 L379.31 52.56 L379.71 53.19 L380.11 53.82 L380.51 54.45 L380.92 55.08 L381.32 55.71 L381.72 56.34 L382.12 56.97 L382.53 57.61 L382.93 58.24 L383.33 58.87 L383.74 59.50 L384.14 60.13 L384.54 60.76 L384.94 61.39 L385.35 62.02 L385.75 62.65 L386.15 63.28 L386.56 63.91 L386.96 64.54 L387.36 65.17 L387.76 65.80 L388.17 66.43 L388.57 67.06 L388.97 67.69 L389.38 68.33 L389.78 68.96 L390.18 69.59 L390.58 70.22 L390.99 70.85 L391.39 71.48 L391.79 72.11 L392.19 72.74 L392.60 73.37 L393.00 74.00 L393.60 72.00 L394.01 70.50 L394.42 69.04 L394.83 67.64 L395.24 66.28 L395.65 64.97 L396.06 63.70 L396.47 62.48 L396.88 61.30 L397.29 60.15 L397.70 59.05 L398.11 57.98 L398.52 56.95 L398.93 55.95 L399.34 54.98 L399.75 54.05 L400.16 53.15 L400.57 52.28 L400.98 51.44 L401.39 50.63 L401.80 49.84 L402.21 49.08 L402.62 48.35 L403.03 47.64 L403.44 46.95 L403.85 46.29 L404.26 45.65 L404.67 45.03 L405.08 44.44 L405.49 43.86 L405.90 43.30 L406.40 57.50 L406.81 58.04 L407.22 58.56 L407.63 59.05 L408.04 59.52 L408.44 59.96 L408.85 60.38 L409.26 60.78 L409.67 61.17 L410.08 61.53 L410.49 61.87 L410.90 62.20 L411.31 62.51 L411.71 62.80 L412.12 63.08 L412.53 63.35 L412.94 63.60 L413.35 63.84 L413.76 64.07 L414.17 64.29 L414.58 64.49 L414.99 64.69 L415.39 64.87 L415.80 65.05 L416.21 65.22 L416.62 65.38 L417.03 65.53 L417.44 65.67 L417.85 65.81 L418.26 65.94 L418.66 66.06 L419.07 66.18 L419.48 66.29 L419.89 66.40 L420.30 66.50 L421.00 53.00 L421.41 51.24 L421.81 49.70 L422.22 48.36 L422.63 47.19 L423.03 46.17 L423.44 45.28 L423.85 44.50 L424.26 43.82 L424.66 43.22 L425.07 42.70 L425.48 42.25 L425.88 41.85 L426.29 41.51 L426.70 41.21 L427.10 40.94 L427.51 40.71 L427.92 40.51 L428.32 40.34 L428.73 40.18 L429.14 40.05 L429.54 39.93 L429.95 39.83 L430.36 39.74 L430.77 39.66 L431.17 39.60 L431.58 39.54 L431.99 39.48 L432.39 39.44 L432.80 39.40 L433.20 45.45 L433.60 51.50 L434.00 52.13 L434.41 52.72 L434.81 53.30 L435.21 53.84 L435.61 54.37 L436.02 54.87 L436.42 55.35 L436.82 55.80 L437.23 56.24 L437.63 56.66 L438.03 57.06 L438.43 57.44 L438.84 57.81 L439.24 58.16 L439.64 58.49 L440.05 58.81 L440.45 59.12 L440.85 59.41 L441.25 59.69 L441.66 59.96 L442.06 60.21 L442.46 60.46 L442.86 60.69 L443.27 60.91 L443.67 61.13 L444.07 61.33 L444.48 61.53 L444.88 61.71 L445.28 61.89 L445.68 62.06 L446.09 62.23 L446.49 62.38 L446.89 62.53 L447.30 62.67 L447.70 62.81 L448.10 62.94 L448.50 63.07 L448.91 63.19 L449.31 63.30 L449.71 63.41 L450.12 63.51 L450.52 63.61 L450.92 63.71 L451.32 63.80 L451.73 63.89 L452.13 63.97 L452.53 64.05 L452.94 64.13 L453.34 64.20 L453.74 64.27 L454.14 64.34 L454.55 64.40 L454.95 64.46 L455.35 64.52 L455.75 64.58 L456.16 64.63 L456.56 64.68 L456.96 64.73 L457.37 64.78 L457.77 64.82 L458.17 64.86 L458.57 64.90 L458.98 64.94 L459.38 64.98 L459.78 65.02 L460.19 65.05 L460.59 65.08 L460.99 65.11 L461.39 65.14 L461.80 65.17 L462.20 65.20" fill="none" stroke="#000" stroke-width="2.20" stroke-linejoin="round" stroke-linecap="round" />
<path d="M311.00 128.40 L311.40 128.36 L311.80 128.32 L312.20 128.28 L312.60 128.24 L313.00 128.20 L313.40 128.16 L313.80 128.12 L314.20 128.08 L314.60 128.04 L315.00 128.00 L315.40 127.96 L315.80 127.92 L316.20 127.88 L316.60 127.84 L317.00 127.80 L317.40 127.76 L317.80 127.72 L318.20 127.68 L318.60 127.64 L319.00 127.60 L319.60 124.50 L320.01 124.31 L320.42 124.12 L320.83 123.95 L321.24 123.78 L321.65 123.62 L322.06 123.47 L322.47 123.33 L322.88 123.20 L323.29 123.07 L323.70 122.94 L324.11 122.83 L324.52 122.72 L324.93 122.61 L325.34 122.51 L325.76 122.42 L326.17 122.33 L326.58 122.24 L326.99 122.16 L327.40 122.09 L327.81 122.01 L328.22 121.94 L328.63 121.88 L329.04 121.82 L329.45 121.76 L329.86 121.70 L330.27 121.65 L330.68 121.59 L331.09 121.55 L331.50 121.50 L331.90 122.00 L332.30 122.50 L332.70 123.00 L333.10 123.50 L333.50 124.00 L333.90 123.98 L334.31 123.97 L334.71 123.95 L335.11 123.94 L335.52 123.92 L335.92 123.90 L336.32 123.89 L336.73 123.87 L337.13 123.85 L337.53 123.84 L337.94 123.82 L338.34 123.81 L338.74 123.79 L339.15 123.77 L339.55 123.76 L339.95 123.74 L340.35 123.73 L340.76 123.71 L341.16 123.69 L341.56 123.68 L341.97 123.66 L342.37 123.65 L342.77 123.63 L343.18 123.61 L343.58 123.60 L343.98 123.58 L344.39 123.56 L344.79 123.55 L345.19 123.53 L345.60 123.52 L346.00 123.50 L346.60 112.00 L347.01 111.59 L347.42 111.22 L347.83 110.91 L348.24 110.63 L348.65 110.39 L349.06 110.18 L349.47 110.00 L349.88 109.84 L350.29 109.70 L350.70 109.58 L351.11 109.48 L351.52 109.38 L351.93 109.30 L352.34 109.23 L352.75 109.17 L353.15 109.12 L353.56 109.07 L353.97 109.03 L354.38 109.00 L354.79 108.96 L355.20 108.94 L355.61 108.91 L356.02 108.89 L356.43 108.88 L356.84 108.86 L357.25 108.85 L357.66 108.83 L358.07 108.82 L358.48 108.81 L358.89 108.81 L359.30 108.80 L360.00 117.00 L360.40 117.04 L360.81 117.07 L361.21 117.10 L361.61 117.13 L362.02 117.16 L362.42 117.19 L362.82 117.21 L363.23 117.24 L363.63 117.26 L364.03 117.28 L364.44 117.30 L364.84 117.32 L365.24 117.33 L365.65 117.35 L366.05 117.36 L366.45 117.38 L366.85 117.39 L367.26 117.40 L367.66 117.41 L368.06 117.42 L368.47 117.43 L368.87 117.44 L369.27 117.45 L369.68 117.46 L370.08 117.46 L370.48 117.47 L370.89 117.48 L371.29 117.48 L371.69 117.49 L372.10 117.50 L372.50 117.50 L373.00 106.75 L373.50 96.00 L373.92 92.33 L374.33 88.67 L374.75 85.00 L375.17 81.33 L375.58 77.67 L376.00 74.00 L376.42 70.33 L376.83 66.67 L377.25 63.00 L377.67 59.33 L378.08 55.67 L378.50 52.00 L378.90 52.65 L379.31 53.31 L379.71 53.96 L380.11 54.61 L380.51 55.26 L380.92 55.92 L381.32 56.57 L381.72 57.22 L382.12 57.88 L382.53 58.53 L382.93 59.18 L383.33 59.83 L383.74 60.49 L384.14 61.14 L384.54 61.79 L384.94 62.44 L385.35 63.10 L385.75 63.75 L386.15 64.40 L386.56 65.06 L386.96 65.71 L387.36 66.36 L387.76 67.01 L388.17 67.67 L388.57 68.32 L388.97 68.97 L389.38 69.62 L389.78 70.28 L390.18 70.93 L390.58 71.58 L390.99 72.24 L391.39 72.89 L391.79 73.54 L392.19 74.19 L392.60 74.85 L393.00 75.50 L393.60 72.80 L394.01 71.31 L394.41 69.86 L394.82 68.47 L395.23 67.12 L395.63 65.82 L396.04 64.55 L396.45 63.34 L396.85 62.16 L397.26 61.02 L397.67 59.92 L398.07 58.85 L398.48 57.83 L398.89 56.83 L399.29 55.87 L399.70 54.94 L400.11 54.04 L400.51 53.18 L400.92 52.34 L401.33 51.52 L401.73 50.74 L402.14 49.98 L402.55 49.25 L402.95 48.54 L403.36 47.86 L403.77 47.19 L404.17 46.55 L404.58 45.94 L404.99 45.34 L405.39 44.76 L405.80 44.20 L406.40 59.00 L406.81 59.54 L407.22 60.06 L407.63 60.55 L408.04 61.02 L408.44 61.46 L408.85 61.88 L409.26 62.28 L409.67 62.67 L410.08 63.03 L410.49 63.37 L410.90 63.70 L411.31 64.01 L411.71 64.30 L412.12 64.58 L412.53 64.85 L412.94 65.10 L413.35 65.34 L413.76 65.57 L414.17 65.79 L414.58 65.99 L414.99 66.19 L415.39 66.37 L415.80 66.55 L416.21 66.72 L416.62 66.88 L417.03 67.03 L417.44 67.17 L417.85 67.31 L418.26 67.44 L418.66 67.56 L419.07 67.68 L419.48 67.79 L419.89 67.90 L420.30 68.00 L421.00 55.00 L421.41 53.25 L421.81 51.73 L422.22 50.40 L422.63 49.23 L423.03 48.22 L423.44 47.33 L423.85 46.56 L424.26 45.88 L424.66 45.29 L425.07 44.78 L425.48 44.33 L425.88 43.93 L426.29 43.59 L426.70 43.29 L427.10 43.03 L427.51 42.80 L427.92 42.60 L428.32 42.43 L428.73 42.28 L429.14 42.14 L429.54 42.03 L429.95 41.93 L430.36 41.84 L430.77 41.76 L431.17 41.69 L431.58 41.64 L431.99 41.58 L432.39 41.54 L432.80 41.50 L433.20 47.25 L433.60 53.00 L434.00 53.61 L434.41 54.19 L434.81 54.74 L435.21 55.27 L435.61 55.78 L436.02 56.27 L436.42 56.73 L436.82 57.18 L437.23 57.60 L437.63 58.01 L438.03 58.40 L438.43 58.77 L438.84 59.12 L439.24 59.46 L439.64 59.79 L440.05 60.10 L440.45 60.39 L440.85 60.68 L441.25 60.95 L441.66 61.21 L442.06 61.46 L442.46 61.69 L442.86 61.92 L443.27 62.14 L443.67 62.35 L444.07 62.54 L444.48 62.73 L444.88 62.91 L445.28 63.09 L445.68 63.25 L446.09 63.41 L446.49 63.56 L446.89 63.71 L447.30 63.85 L447.70 63.98 L448.10 64.11 L448.50 64.23 L448.91 64.35 L449.31 64.46 L449.71 64.56 L450.12 64.66 L450.52 64.76 L450.92 64.85 L451.32 64.94 L451.73 65.03 L452.13 65.11 L452.53 65.19 L452.94 65.26 L453.34 65.33 L453.74 65.40 L454.14 65.46 L454.55 65.52 L454.95 65.58 L455.35 65.64 L455.75 65.69 L456.16 65.75 L456.56 65.80 L456.96 65.84 L457.37 65.89 L457.77 65.93 L458.17 65.97 L458.57 66.01 L458.98 66.05 L459.38 66.09 L459.78 66.12 L460.19 66.15 L460.59 66.19 L460.99 66.22 L461.39 66.25 L461.80 66.27 L462.20 66.30" fill="none" stroke="#000" stroke-width="2.20" stroke-linejoin="round" stroke-linecap="round" />
<path d="M311.00 128.40 L311.40 128.36 L311.80 128.32 L312.20 128.28 L312.60 128.24 L313.00 128.20 L313.40 128.16 L313.80 128.12 L314.20 128.08 L314.60 128.04 L315.00 128.00 L315.40 127.96 L315.80 127.92 L316.20 127.88 L316.60 127.84 L317.00 127.80 L317.40 127.76 L317.80 127.72 L318.20 127.68 L318.60 127.64 L319.00 127.60 L319.60 125.50 L320.01 125.37 L320.42 125.25 L320.83 125.13 L321.24 125.02 L321.65 124.92 L322.06 124.82 L322.47 124.72 L322.88 124.63 L323.29 124.54 L323.70 124.46 L324.11 124.39 L324.52 124.31 L324.93 124.24 L325.34 124.18 L325.76 124.11 L326.17 124.05 L326.58 124.00 L326.99 123.94 L327.40 123.89 L327.81 123.84 L328.22 123.80 L328.63 123.75 L329.04 123.71 L329.45 123.67 L329.86 123.63 L330.27 123.60 L330.68 123.56 L331.09 123.53 L331.50 123.50 L331.90 124.00 L332.30 124.50 L332.70 125.00 L333.10 125.50 L333.50 126.00 L333.90 125.98 L334.31 125.97 L334.71 125.95 L335.11 125.94 L335.52 125.92 L335.92 125.90 L336.32 125.89 L336.73 125.87 L337.13 125.85 L337.53 125.84 L337.94 125.82 L338.34 125.81 L338.74 125.79 L339.15 125.77 L339.55 125.76 L339.95 125.74 L340.35 125.73 L340.76 125.71 L341.16 125.69 L341.56 125.68 L341.97 125.66 L342.37 125.65 L342.77 125.63 L343.18 125.61 L343.58 125.60 L343.98 125.58 L344.39 125.56 L344.79 125.55 L345.19 125.53 L345.60 125.52 L346.00 125.50 L346.60 113.00 L347.01 112.72 L347.42 112.47 L347.83 112.25 L348.24 112.06 L348.65 111.90 L349.06 111.75 L349.47 111.63 L349.88 111.52 L350.29 111.42 L350.70 111.34 L351.11 111.26 L351.52 111.20 L351.93 111.15 L352.34 111.10 L352.75 111.06 L353.15 111.02 L353.56 110.99 L353.97 110.96 L354.38 110.93 L354.79 110.91 L355.20 110.89 L355.61 110.88 L356.02 110.86 L356.43 110.85 L356.84 110.84 L357.25 110.83 L357.66 110.82 L358.07 110.82 L358.48 110.81 L358.89 110.80 L359.30 110.80 L360.00 119.50 L360.40 119.54 L360.81 119.57 L361.21 119.60 L361.61 119.63 L362.02 119.66 L362.42 119.69 L362.82 119.71 L363.23 119.74 L363.63 119.76 L364.03 119.78 L364.44 119.80 L364.84 119.82 L365.24 119.83 L365.65 119.85 L366.05 119.86 L366.45 119.88 L366.85 119.89 L367.26 119.90 L367.66 119.91 L368.06 119.92 L368.47 119.93 L368.87 119.94 L369.27 119.95 L369.68 119.96 L370.08 119.96 L370.48 119.97 L370.89 119.98 L371.29 119.98 L371.69 119.99 L372.10 120.00 L372.50 120.00 L373.00 108.50 L373.50 97.00 L373.92 93.30 L374.33 89.60 L374.75 85.90 L375.17 82.20 L375.58 78.50 L376.00 74.80 L376.42 71.10 L376.83 67.40 L377.25 63.70 L377.67 60.00 L378.08 56.30 L378.50 52.60 L378.90 53.28 L379.31 53.96 L379.71 54.63 L380.11 55.31 L380.51 55.99 L380.92 56.67 L381.32 57.34 L381.72 58.02 L382.12 58.70 L382.53 59.38 L382.93 60.06 L383.33 60.73 L383.74 61.41 L384.14 62.09 L384.54 62.77 L384.94 63.44 L385.35 64.12 L385.75 64.80 L386.15 65.48 L386.56 66.16 L386.96 66.83 L387.36 67.51 L387.76 68.19 L388.17 68.87 L388.57 69.54 L388.97 70.22 L389.38 70.90 L389.78 71.58 L390.18 72.26 L390.58 72.93 L390.99 73.61 L391.39 74.29 L391.79 74.97 L392.19 75.64 L392.60 76.32 L393.00 77.00 L393.60 76.00 L394.00 74.78 L394.41 73.60 L394.81 72.46 L395.21 71.35 L395.62 70.29 L396.02 69.25 L396.42 68.26 L396.83 67.29 L397.23 66.36 L397.63 65.46 L398.04 64.58 L398.44 63.74 L398.84 62.92 L399.25 62.14 L399.65 61.37 L400.06 60.64 L400.46 59.92 L400.86 59.23 L401.27 58.57 L401.67 57.92 L402.07 57.30 L402.48 56.70 L402.88 56.11 L403.28 55.55 L403.69 55.01 L404.09 54.48 L404.49 53.97 L404.90 53.48 L405.30 53.00 L405.90 57.75 L406.50 62.50 L406.91 63.10 L407.31 63.67 L407.72 64.22 L408.12 64.73 L408.53 65.23 L408.94 65.69 L409.34 66.14 L409.75 66.56 L410.15 66.96 L410.56 67.34 L410.96 67.70 L411.37 68.05 L411.78 68.38 L412.18 68.69 L412.59 68.98 L412.99 69.26 L413.40 69.53 L413.81 69.79 L414.21 70.03 L414.62 70.26 L415.02 70.48 L415.43 70.68 L415.84 70.88 L416.24 71.07 L416.65 71.25 L417.05 71.41 L417.46 71.58 L417.86 71.73 L418.27 71.87 L418.68 72.01 L419.08 72.14 L419.49 72.27 L419.89 72.39 L420.30 72.50 L421.00 58.00 L421.41 56.87 L421.81 55.89 L422.22 55.03 L422.63 54.28 L423.03 53.63 L423.44 53.06 L423.85 52.56 L424.26 52.12 L424.66 51.74 L425.07 51.41 L425.48 51.12 L425.88 50.87 L426.29 50.65 L426.70 50.46 L427.10 50.29 L427.51 50.14 L427.92 50.01 L428.32 49.90 L428.73 49.80 L429.14 49.72 L429.54 49.64 L429.95 49.58 L430.36 49.52 L430.77 49.47 L431.17 49.43 L431.58 49.39 L431.99 49.35 L432.39 49.33 L432.80 49.30 L433.20 54.40 L433.60 59.50 L434.00 60.14 L434.41 60.76 L434.81 61.35 L435.21 61.91 L435.61 62.45 L436.02 62.97 L436.42 63.46 L436.82 63.93 L437.23 64.38 L437.63 64.81 L438.03 65.22 L438.43 65.61 L438.84 65.99 L439.24 66.35 L439.64 66.69 L440.05 67.02 L440.45 67.34 L440.85 67.64 L441.25 67.93 L441.66 68.20 L442.06 68.47 L442.46 68.72 L442.86 68.96 L443.27 69.19 L443.67 69.41 L444.07 69.62 L444.48 69.82 L444.88 70.01 L445.28 70.20 L445.68 70.37 L446.09 70.54 L446.49 70.70 L446.89 70.85 L447.30 71.00 L447.70 71.14 L448.10 71.28 L448.50 71.40 L448.91 71.53 L449.31 71.65 L449.71 71.76 L450.12 71.86 L450.52 71.97 L450.92 72.07 L451.32 72.16 L451.73 72.25 L452.13 72.34 L452.53 72.42 L452.94 72.50 L453.34 72.57 L453.74 72.64 L454.14 72.71 L454.55 72.78 L454.95 72.84 L455.35 72.90 L455.75 72.96 L456.16 73.01 L456.56 73.07 L456.96 73.12 L457.37 73.16 L457.77 73.21 L458.17 73.25 L458.57 73.30 L458.98 73.34 L459.38 73.37 L459.78 73.41 L460.19 73.45 L460.59 73.48 L460.99 73.51 L461.39 73.54 L461.80 73.57 L462.20 73.60" fill="none" stroke="#000" stroke-width="2.20" stroke-linejoin="round" stroke-linecap="round" />
<path d="M311.00 128.40 L311.40 128.36 L311.80 128.32 L312.20 128.28 L312.60 128.24 L313.00 128.20 L313.40 128.16 L313.80 128.12 L314.20 128.08 L314.60 128.04 L315.00 128.00 L315.40 127.96 L315.80 127.92 L316.20 127.88 L316.60 127.84 L317.00 127.80 L317.40 127.76 L317.80 127.72 L318.20 127.68 L318.60 127.64 L319.00 127.60 L319.60 126.50 L320.01 126.44 L320.42 126.37 L320.83 126.32 L321.24 126.26 L321.65 126.21 L322.06 126.16 L322.47 126.11 L322.88 126.07 L323.29 126.02 L323.70 125.98 L324.11 125.94 L324.52 125.91 L324.93 125.87 L325.34 125.84 L325.76 125.81 L326.17 125.78 L326.58 125.75 L326.99 125.72 L327.40 125.70 L327.81 125.67 L328.22 125.65 L328.63 125.63 L329.04 125.61 L329.45 125.59 L329.86 125.57 L330.27 125.55 L330.68 125.53 L331.09 125.52 L331.50 125.50 L331.90 126.00 L332.30 126.50 L332.70 127.00 L333.10 127.50 L333.50 128.00 L333.90 127.99 L334.31 127.97 L334.71 127.96 L335.11 127.95 L335.52 127.94 L335.92 127.92 L336.32 127.91 L336.73 127.90 L337.13 127.88 L337.53 127.87 L337.94 127.86 L338.34 127.85 L338.74 127.83 L339.15 127.82 L339.55 127.81 L339.95 127.79 L340.35 127.78 L340.76 127.77 L341.16 127.75 L341.56 127.74 L341.97 127.73 L342.37 127.72 L342.77 127.70 L343.18 127.69 L343.58 127.68 L343.98 127.66 L344.39 127.65 L344.79 127.64 L345.19 127.63 L345.60 127.61 L346.00 127.60 L346.60 114.00 L347.01 113.81 L347.42 113.64 L347.83 113.49 L348.24 113.36 L348.65 113.25 L349.06 113.15 L349.47 113.06 L349.88 112.99 L350.29 112.92 L350.70 112.87 L351.11 112.82 L351.52 112.77 L351.93 112.74 L352.34 112.70 L352.75 112.67 L353.15 112.65 L353.56 112.63 L353.97 112.61 L354.38 112.59 L354.79 112.58 L355.20 112.56 L355.61 112.55 L356.02 112.54 L356.43 112.54 L356.84 112.53 L357.25 112.52 L357.66 112.52 L358.07 112.51 L358.48 112.51 L358.89 112.50 L359.30 112.50 L360.00 121.50 L360.40 121.54 L360.81 121.57 L361.21 121.60 L361.61 121.63 L362.02 121.66 L362.42 121.69 L362.82 121.71 L363.23 121.74 L363.63 121.76 L364.03 121.78 L364.44 121.80 L364.84 121.82 L365.24 121.83 L365.65 121.85 L366.05 121.86 L366.45 121.88 L366.85 121.89 L367.26 121.90 L367.66 121.91 L368.06 121.92 L368.47 121.93 L368.87 121.94 L369.27 121.95 L369.68 121.96 L370.08 121.96 L370.48 121.97 L370.89 121.98 L371.29 121.98 L371.69 121.99 L372.10 122.00 L372.50 122.00 L373.00 110.00 L373.50 98.00 L373.92 94.27 L374.33 90.53 L374.75 86.80 L375.17 83.07 L375.58 79.33 L376.00 75.60 L376.42 71.87 L376.83 68.13 L377.25 64.40 L377.67 60.67 L378.08 56.93 L378.50 53.20 L378.90 53.89 L379.31 54.59 L379.71 55.28 L380.11 55.98 L380.51 56.67 L380.92 57.37 L381.32 58.06 L381.72 58.76 L382.12 59.45 L382.53 60.14 L382.93 60.84 L383.33 61.53 L383.74 62.23 L384.14 62.92 L384.54 63.62 L384.94 64.31 L385.35 65.01 L385.75 65.70 L386.15 66.39 L386.56 67.09 L386.96 67.78 L387.36 68.48 L387.76 69.17 L388.17 69.87 L388.57 70.56 L388.97 71.26 L389.38 71.95 L389.78 72.64 L390.18 73.34 L390.58 74.03 L390.99 74.73 L391.39 75.42 L391.79 76.12 L392.19 76.81 L392.60 77.51 L393.00 78.20 L393.60 77.00 L394.00 75.78 L394.41 74.60 L394.81 73.46 L395.21 72.35 L395.62 71.29 L396.02 70.25 L396.42 69.26 L396.83 68.29 L397.23 67.36 L397.63 66.46 L398.04 65.58 L398.44 64.74 L398.84 63.92 L399.25 63.14 L399.65 62.37 L400.06 61.64 L400.46 60.92 L400.86 60.23 L401.27 59.57 L401.67 58.92 L402.07 58.30 L402.48 57.70 L402.88 57.11 L403.28 56.55 L403.69 56.01 L404.09 55.48 L404.49 54.97 L404.90 54.48 L405.30 54.00 L405.90 59.25 L406.50 64.50 L406.91 65.10 L407.31 65.67 L407.72 66.22 L408.12 66.73 L408.53 67.23 L408.94 67.69 L409.34 68.14 L409.75 68.56 L410.15 68.96 L410.56 69.34 L410.96 69.70 L411.37 70.05 L411.78 70.38 L412.18 70.69 L412.59 70.98 L412.99 71.26 L413.40 71.53 L413.81 71.79 L414.21 72.03 L414.62 72.26 L415.02 72.48 L415.43 72.68 L415.84 72.88 L416.24 73.07 L416.65 73.25 L417.05 73.41 L417.46 73.58 L417.86 73.73 L418.27 73.87 L418.68 74.01 L419.08 74.14 L419.49 74.27 L419.89 74.39 L420.30 74.50 L421.00 59.00 L421.41 57.90 L421.81 56.94 L422.22 56.10 L422.63 55.37 L423.03 54.73 L423.44 54.17 L423.85 53.69 L424.26 53.26 L424.66 52.89 L425.07 52.56 L425.48 52.28 L425.88 52.03 L426.29 51.82 L426.70 51.63 L427.10 51.46 L427.51 51.32 L427.92 51.19 L428.32 51.08 L428.73 50.99 L429.14 50.91 L429.54 50.83 L429.95 50.77 L430.36 50.71 L430.77 50.66 L431.17 50.62 L431.58 50.59 L431.99 50.55 L432.39 50.52 L432.80 50.50 L433.20 56.50 L433.60 62.50 L434.00 63.15 L434.41 63.77 L434.81 64.36 L435.21 64.93 L435.61 65.47 L436.02 65.99 L436.42 66.49 L436.82 66.96 L437.23 67.41 L437.63 67.85 L438.03 68.26 L438.43 68.66 L438.84 69.04 L439.24 69.40 L439.64 69.75 L440.05 70.08 L440.45 70.39 L440.85 70.70 L441.25 70.99 L441.66 71.26 L442.06 71.53 L442.46 71.78 L442.86 72.02 L443.27 72.26 L443.67 72.48 L444.07 72.69 L444.48 72.89 L444.88 73.09 L445.28 73.27 L445.68 73.45 L446.09 73.62 L446.49 73.78 L446.89 73.93 L447.30 74.08 L447.70 74.22 L448.10 74.36 L448.50 74.49 L448.91 74.61 L449.31 74.73 L449.71 74.84 L450.12 74.95 L450.52 75.06 L450.92 75.16 L451.32 75.25 L451.73 75.34 L452.13 75.43 L452.53 75.51 L452.94 75.59 L453.34 75.66 L453.74 75.74 L454.14 75.81 L454.55 75.87 L454.95 75.94 L455.35 76.00 L455.75 76.05 L456.16 76.11 L456.56 76.16 L456.96 76.21 L457.37 76.26 L457.77 76.31 L458.17 76.35 L458.57 76.39 L458.98 76.43 L459.38 76.47 L459.78 76.51 L460.19 76.55 L460.59 76.58 L460.99 76.61 L461.39 76.64 L461.80 76.67 L462.20 76.70" fill="none" stroke="#000" stroke-width="2.20" stroke-linejoin="round" stroke-linecap="round" />
<line x1="362.70" y1="121.00" x2="362.70" y2="125.60" stroke="#000" stroke-width="1.40"/>
<line x1="409.20" y1="66.00" x2="409.20" y2="71.00" stroke="#000" stroke-width="1.40"/>
<line x1="48.60" y1="210.45" x2="48.60" y2="325.05" stroke="#000" stroke-width="1.50"/>
<line x1="47.85" y1="324.30" x2="218.95" y2="324.30" stroke="#000" stroke-width="1.50"/>
<line x1="45.00" y1="211.30" x2="48.60" y2="211.30" stroke="#000" stroke-width="1.50"/>
<text x="43.38" y="215.18" font-size="11.43" font-weight="bold" text-anchor="end">100</text>
<line x1="45.00" y1="239.30" x2="48.60" y2="239.30" stroke="#000" stroke-width="1.50"/>
<text x="43.38" y="243.18" font-size="11.43" font-weight="bold" text-anchor="end">75</text>
<line x1="45.00" y1="267.30" x2="48.60" y2="267.30" stroke="#000" stroke-width="1.50"/>
<text x="43.38" y="271.18" font-size="11.43" font-weight="bold" text-anchor="end">50</text>
<line x1="45.00" y1="295.30" x2="48.60" y2="295.30" stroke="#000" stroke-width="1.50"/>
<text x="43.38" y="299.18" font-size="11.43" font-weight="bold" text-anchor="end">25</text>
<line x1="45.00" y1="323.30" x2="48.60" y2="323.30" stroke="#000" stroke-width="1.50"/>
<text x="43.38" y="327.18" font-size="11.43" font-weight="bold" text-anchor="end">0</text>
<line x1="58.20" y1="324.30" x2="58.20" y2="328.30" stroke="#000" stroke-width="1.50"/>
<text x="58.57" y="339.86" font-size="11.43" font-weight="bold" text-anchor="middle">0</text>
<line x1="98.20" y1="324.30" x2="98.20" y2="328.30" stroke="#000" stroke-width="1.50"/>
<text x="98.37" y="339.40" font-size="11.43" font-weight="bold" text-anchor="middle">200</text>
<line x1="138.20" y1="324.30" x2="138.20" y2="328.30" stroke="#000" stroke-width="1.50"/>
<text x="138.16" y="338.94" font-size="11.43" font-weight="bold" text-anchor="middle">400</text>
<line x1="178.20" y1="324.30" x2="178.20" y2="328.30" stroke="#000" stroke-width="1.50"/>
<text x="178.37" y="339.40" font-size="11.43" font-weight="bold" text-anchor="middle">600</text>
<line x1="218.20" y1="324.30" x2="218.20" y2="328.30" stroke="#000" stroke-width="1.50"/>
<text x="218.37" y="339.40" font-size="11.43" font-weight="bold" text-anchor="middle">800</text>
<text x="-0.52" y="196.84" font-size="16.31" font-weight="bold" text-anchor="start">C</text>
<text x="132.22" y="193.09" font-size="10.78" font-weight="bold" text-anchor="middle">FB+FD binding to C3</text>
<text x="133.26" y="357.63" font-size="11.85" font-weight="bold" text-anchor="middle">time, s</text>
<text x="0" y="0" font-size="12.16" font-weight="bold" text-anchor="middle" transform="translate(17.05 265.67) rotate(-90)">Response, RU</text>
<text x="214.34" y="233.88" font-size="10.78" font-weight="bold" text-anchor="middle">heme to FB</text>
<text x="214.71" y="245.70" font-size="10.91" font-weight="bold" text-anchor="middle">molar exces</text>
<text x="231.85" y="273.74" font-size="10.61" font-weight="bold" text-anchor="middle">0</text>
<text x="235.19" y="283.84" font-size="10.61" font-weight="bold" text-anchor="middle">5x</text>
<text x="234.67" y="294.68" font-size="10.61" font-weight="bold" text-anchor="middle">10x</text>
<line x1="304.40" y1="211.15" x2="304.40" y2="330.15" stroke="#000" stroke-width="1.50"/>
<line x1="303.65" y1="329.40" x2="480.55" y2="329.40" stroke="#000" stroke-width="1.50"/>
<line x1="300.80" y1="211.90" x2="304.40" y2="211.90" stroke="#000" stroke-width="1.50"/>
<text x="299.25" y="216.28" font-size="11.43" font-weight="bold" text-anchor="end">200</text>
<line x1="300.80" y1="241.00" x2="304.40" y2="241.00" stroke="#000" stroke-width="1.50"/>
<text x="299.33" y="245.05" font-size="11.43" font-weight="bold" text-anchor="end">150</text>
<line x1="300.80" y1="270.10" x2="304.40" y2="270.10" stroke="#000" stroke-width="1.50"/>
<text x="299.33" y="274.15" font-size="11.43" font-weight="bold" text-anchor="end">100</text>
<line x1="300.80" y1="299.20" x2="304.40" y2="299.20" stroke="#000" stroke-width="1.50"/>
<text x="299.33" y="303.25" font-size="11.43" font-weight="bold" text-anchor="end">50</text>
<line x1="300.80" y1="328.30" x2="304.40" y2="328.30" stroke="#000" stroke-width="1.50"/>
<text x="299.42" y="332.02" font-size="11.43" font-weight="bold" text-anchor="end">0</text>
<line x1="314.60" y1="329.40" x2="314.60" y2="333.40" stroke="#000" stroke-width="1.50"/>
<text x="314.38" y="343.83" font-size="11.43" font-weight="bold" text-anchor="middle">0</text>
<line x1="355.90" y1="329.40" x2="355.90" y2="333.40" stroke="#000" stroke-width="1.50"/>
<text x="355.89" y="344.03" font-size="11.43" font-weight="bold" text-anchor="middle">200</text>
<line x1="397.20" y1="329.40" x2="397.20" y2="333.40" stroke="#000" stroke-width="1.50"/>
<text x="397.40" y="344.24" font-size="11.43" font-weight="bold" text-anchor="middle">400</text>
<line x1="438.50" y1="329.40" x2="438.50" y2="333.40" stroke="#000" stroke-width="1.50"/>
<text x="438.49" y="344.03" font-size="11.43" font-weight="bold" text-anchor="middle">600</text>
<line x1="479.80" y1="329.40" x2="479.80" y2="333.40" stroke="#000" stroke-width="1.50"/>
<text x="479.79" y="344.03" font-size="11.43" font-weight="bold" text-anchor="middle">800</text>
<text x="265.37" y="196.68" font-size="16.31" font-weight="bold" text-anchor="start">D</text>
<text x="391.85" y="195.06" font-size="11.19" font-weight="bold" text-anchor="middle">FB+FD binding to C3b</text>
<text x="392.77" y="360.32" font-size="12.24" font-weight="bold" text-anchor="middle">time, s</text>
<text x="0" y="0" font-size="11.22" font-weight="bold" text-anchor="middle" transform="translate(274.30 268.88) rotate(-90)">Response, RU</text>
<text x="482.24" y="230.28" font-size="11.00" font-weight="bold" text-anchor="middle">heme to FB</text>
<text x="482.39" y="243.12" font-size="11.35" font-weight="bold" text-anchor="middle">molar exces</text>
<text x="487.82" y="271.54" font-size="10.61" font-weight="bold" text-anchor="middle">0</text>
<text x="491.04" y="282.38" font-size="10.61" font-weight="bold" text-anchor="middle">5x</text>
<text x="490.52" y="294.28" font-size="10.61" font-weight="bold" text-anchor="middle">10x</text>
<path d="M48.80 319.69 L49.40 319.32 L50.00 319.70 L50.60 318.74 L51.20 320.31 L51.80 320.34 L52.40 319.90 L53.00 318.62 L53.60 319.55 L54.20 319.05 L54.80 318.85 L55.40 320.68 L56.00 320.79 L56.60 318.32 L57.20 320.44 L57.80 319.77 L58.40 319.19 L59.00 318.94 L59.60 319.95 L60.20 319.39 L60.40 318.00 L60.60 299.28 L61.10 295.71 L61.60 291.66 L62.10 290.37 L62.60 288.60 L63.10 286.66 L63.60 284.27 L64.10 281.66 L64.60 280.25 L65.10 279.32 L65.60 279.85 L66.10 277.58 L66.60 276.79 L67.10 277.00 L67.60 275.02 L68.10 274.72 L68.60 273.77 L69.10 272.33 L69.60 272.70 L70.10 272.57 L70.60 270.56 L71.10 270.09 L71.60 269.87 L72.10 268.53 L72.60 268.88 L73.10 268.97 L73.60 268.10 L74.10 267.31 L74.60 267.43 L75.10 265.49 L75.60 265.82 L76.10 264.92 L76.60 264.88 L77.10 263.41 L77.60 264.25 L78.10 262.42 L78.60 262.09 L79.10 262.91 L79.60 262.73 L80.10 261.25 L80.60 260.76 L81.10 259.98 L81.60 259.61 L82.10 259.86 L82.60 258.56 L83.10 258.03 L83.60 258.29 L84.10 257.30 L84.60 257.86 L85.10 257.81 L85.60 257.33 L86.10 256.35 L86.60 255.70 L87.10 255.50 L87.60 254.27 L88.10 255.32 L88.60 254.19 L89.10 253.81 L89.60 252.98 L90.10 253.37 L90.60 253.29 L91.10 252.57 L91.60 253.19 L92.10 252.46 L92.60 251.27 L93.10 251.52 L93.60 251.97 L94.10 250.87 L94.60 250.73 L95.10 249.34 L95.60 249.89 L96.10 249.54 L96.60 249.12 L97.10 248.87 L97.60 248.91 L98.10 248.53 L98.60 248.15 L99.10 247.23 L99.60 247.51 L100.10 248.29 L100.60 246.92 L101.10 245.90 L101.60 245.57 L102.10 246.38 L102.60 245.16 L103.10 244.99 L103.60 244.78 L104.10 245.22 L104.60 246.06 L105.10 244.81 L105.60 244.52 L106.10 244.24 L106.60 244.14 L107.10 243.81 L107.60 244.15 L108.10 244.27 L108.60 243.65 L109.10 242.89 L109.60 243.13 L110.10 243.44 L110.60 241.72 L111.10 241.69 L111.60 242.25 L112.10 242.19 L112.60 241.90 L113.10 241.60 L113.60 241.89 L114.10 241.00 L114.60 241.47 L115.10 241.60 L115.60 240.37 L116.10 241.03 L116.60 240.58 L117.10 240.74 L117.60 238.88 L118.10 240.45 L118.30 240.09 L118.30 237.30 L119.60 251.33 L120.10 252.68 L120.60 254.09 L121.10 256.86 L121.60 256.21 L122.10 257.31 L122.60 258.35 L123.10 257.59 L123.60 258.43 L124.10 258.43 L124.60 258.96 L125.10 259.08 L125.60 258.91 L126.10 260.63 L126.60 260.57 L127.10 259.99 L127.60 260.72 L128.10 260.88 L128.60 260.85 L129.10 260.97 L129.60 261.72 L130.10 261.85 L130.60 261.66 L131.10 262.17 L131.60 262.97 L132.10 263.28 L132.60 262.82 L133.10 263.82 L133.60 264.54 L134.10 264.75 L134.60 264.53 L135.10 263.61 L135.60 264.33 L136.10 263.76 L136.60 263.71 L137.10 264.10 L137.60 264.51 L138.10 265.12 L138.60 264.97 L139.10 264.45 L139.60 265.31 L140.10 265.10 L140.60 265.24 L141.10 264.96 L141.60 265.45 L142.10 265.44 L142.60 266.32 L143.10 266.08 L143.60 266.21 L144.10 266.47 L144.60 266.69 L145.10 267.28 L145.60 267.56 L146.10 267.92 L146.60 267.43 L147.10 268.36 L147.60 268.89 L148.10 269.16 L148.60 268.89 L149.10 267.92 L149.60 269.54 L150.10 269.72 L150.60 268.44 L151.10 269.19 L151.60 269.36 L152.10 270.28 L152.60 270.21 L153.10 269.76 L153.60 269.73 L154.10 269.82 L154.60 269.79 L155.10 271.13 L155.60 271.47 L156.10 270.24 L156.60 271.22 L157.10 271.61 L157.60 270.25 L158.10 270.96 L158.60 270.76 L159.10 271.79 L159.60 271.68 L160.10 270.24 L160.60 270.68 L161.10 271.97 L161.60 271.62 L162.10 271.68 L162.60 272.37 L163.10 272.46 L163.60 272.99 L164.10 272.05 L164.60 271.75 L165.10 273.12 L165.60 272.18 L166.10 273.33 L166.60 274.08 L167.10 273.47 L167.60 274.07 L168.10 273.52 L168.60 273.72 L169.10 274.76 L169.60 275.44 L170.10 275.91 L170.60 274.38 L171.10 276.19 L171.60 275.65 L172.10 275.56 L172.60 275.83 L173.10 276.33 L173.60 276.08 L174.10 275.87 L174.60 277.31 L175.10 277.15 L175.60 277.09 L176.10 277.39 L176.60 277.94 L177.10 276.55 L177.60 277.76 L178.10 277.78 L178.60 276.92 L179.10 277.32 L179.60 277.17 L180.10 276.74 L180.60 277.24 L181.10 276.81 L181.60 278.30 L182.10 277.06 L182.60 277.97 L183.10 277.98 L183.60 278.84 L184.10 278.65 L184.60 278.02 L185.10 278.21 L185.60 277.78 L186.10 277.95 L186.60 278.59 L187.10 279.92 L187.60 278.48 L188.10 278.89 L188.60 279.90 L189.10 279.59 L189.60 279.45 L190.10 281.01 L190.60 279.56 L191.10 280.74 L191.60 280.61 L192.10 280.63 L192.60 280.52 L193.10 280.63 L193.60 281.22 L194.10 281.99 L194.60 281.61 L195.10 282.30 L195.60 282.60 L196.10 281.43 L196.60 282.80 L197.10 282.35 L197.60 282.13 L198.10 282.35 L198.60 283.07 L199.10 282.20 L199.60 281.67 L200.10 283.23 L200.60 281.74 L201.10 281.76 L201.60 282.91 L202.10 282.23 L202.60 282.26 L203.10 282.99 L203.60 283.51 L204.10 282.63 L204.60 283.74 L205.10 283.34 L205.60 283.43 L206.10 283.42 L206.60 282.61 L207.10 283.00 L207.60 284.06 L208.10 284.23 L208.60 283.29 L209.10 284.39 L209.60 284.23 L210.10 284.55 L210.60 284.36 L211.10 284.16 L211.60 284.53 L212.10 285.75 L212.60 284.45 L213.10 285.77 L213.60 285.27 L214.10 284.53 L214.60 285.94 L215.10 284.57 L215.60 286.11 L216.10 285.25 L216.60 286.33 L217.10 286.00 L217.50 285.35" fill="none" stroke="#000" stroke-width="2.20" stroke-linejoin="round" stroke-linecap="round" />
<path d="M48.80 320.68 L49.40 320.96 L50.00 321.90 L50.60 320.71 L51.20 320.82 L51.80 321.03 L52.40 319.98 L53.00 320.83 L53.60 321.14 L54.20 321.56 L54.80 319.74 L55.40 320.29 L56.00 319.74 L56.60 321.61 L57.20 321.30 L57.80 319.61 L58.40 322.05 L59.00 322.01 L59.60 321.20 L60.20 321.10 L60.40 318.00 L60.60 298.25 L61.10 294.62 L61.60 292.95 L62.10 289.77 L62.60 288.07 L63.10 286.33 L63.60 284.26 L64.10 283.71 L64.60 282.43 L65.10 282.15 L65.60 280.53 L66.10 279.89 L66.60 278.79 L67.10 278.34 L67.60 277.17 L68.10 276.06 L68.60 276.77 L69.10 276.08 L69.60 275.11 L70.10 274.21 L70.60 272.82 L71.10 272.06 L71.60 271.60 L72.10 270.60 L72.60 271.44 L73.10 270.17 L73.60 270.53 L74.10 269.08 L74.60 269.70 L75.10 268.96 L75.60 266.76 L76.10 266.67 L76.60 267.57 L77.10 266.20 L77.60 266.74 L78.10 265.10 L78.60 263.98 L79.10 264.62 L79.60 264.46 L80.10 262.99 L80.60 262.18 L81.10 262.23 L81.60 263.06 L82.10 262.22 L82.60 260.52 L83.10 260.36 L83.60 259.65 L84.10 259.16 L84.60 260.24 L85.10 258.60 L85.60 258.97 L86.10 258.36 L86.60 257.47 L87.10 258.17 L87.60 256.60 L88.10 257.26 L88.60 255.84 L89.10 256.09 L89.60 255.32 L90.10 255.08 L90.60 256.14 L91.10 255.46 L91.60 254.12 L92.10 254.94 L92.60 253.25 L93.10 253.28 L93.60 253.87 L94.10 253.12 L94.60 251.71 L95.10 253.16 L95.60 251.29 L96.10 251.06 L96.60 251.77 L97.10 250.57 L97.60 250.20 L98.10 249.46 L98.60 249.19 L99.10 249.88 L99.60 248.92 L100.10 249.35 L100.60 248.61 L101.10 248.50 L101.60 249.24 L102.10 248.03 L102.60 247.96 L103.10 248.29 L103.60 246.67 L104.10 246.35 L104.60 247.60 L105.10 247.15 L105.60 245.75 L106.10 245.36 L106.60 246.20 L107.10 246.33 L107.60 244.58 L108.10 245.83 L108.60 245.43 L109.10 244.62 L109.60 244.01 L110.10 243.14 L110.60 242.78 L111.10 244.40 L111.60 242.74 L112.10 243.47 L112.60 242.37 L113.10 243.28 L113.60 242.60 L114.10 241.75 L114.60 241.28 L115.10 242.12 L115.60 240.58 L116.10 240.66 L116.60 241.10 L117.10 241.47 L117.60 240.79 L118.10 239.93 L118.30 241.14 L118.50 238.18 L119.80 253.78 L120.30 256.10 L120.80 259.96 L121.30 261.95 L121.80 261.40 L122.30 261.96 L122.80 262.81 L123.30 263.73 L123.80 263.46 L124.30 264.29 L124.80 265.46 L125.30 265.64 L125.80 265.10 L126.30 265.25 L126.80 265.19 L127.30 264.57 L127.80 264.59 L128.30 264.80 L128.80 266.67 L129.30 266.57 L129.80 267.34 L130.30 265.95 L130.80 267.36 L131.30 267.39 L131.80 268.14 L132.30 267.68 L132.80 269.18 L133.30 267.76 L133.80 268.83 L134.30 269.36 L134.80 269.81 L135.30 269.62 L135.80 269.62 L136.30 269.79 L136.80 270.03 L137.30 269.05 L137.80 269.71 L138.30 270.17 L138.80 270.21 L139.30 269.49 L139.80 270.29 L140.30 270.55 L140.80 270.17 L141.30 270.43 L141.80 270.16 L142.30 270.70 L142.80 270.93 L143.30 270.17 L143.80 271.38 L144.30 272.22 L144.80 272.23 L145.30 272.17 L145.80 271.78 L146.30 272.62 L146.80 272.56 L147.30 272.53 L147.80 273.47 L148.30 272.33 L148.80 273.74 L149.30 272.65 L149.80 273.88 L150.30 273.87 L150.80 273.61 L151.30 274.63 L151.80 274.44 L152.30 274.82 L152.80 275.52 L153.30 274.47 L153.80 274.16 L154.30 274.79 L154.80 275.57 L155.30 274.80 L155.80 274.81 L156.30 276.18 L156.80 275.77 L157.30 275.39 L157.80 276.20 L158.30 275.22 L158.80 275.87 L159.30 275.09 L159.80 275.59 L160.30 276.35 L160.80 276.65 L161.30 276.71 L161.80 275.95 L162.30 276.45 L162.80 276.12 L163.30 275.96 L163.80 276.77 L164.30 277.56 L164.80 277.77 L165.30 277.71 L165.80 278.33 L166.30 277.31 L166.80 277.32 L167.30 278.03 L167.80 277.92 L168.30 278.01 L168.80 278.57 L169.30 279.15 L169.80 279.11 L170.30 278.98 L170.80 280.11 L171.30 280.56 L171.80 279.78 L172.30 279.27 L172.80 279.36 L173.30 281.02 L173.80 279.67 L174.30 281.00 L174.80 280.88 L175.30 280.51 L175.80 281.48 L176.30 280.17 L176.80 280.44 L177.30 281.06 L177.80 280.32 L178.30 281.78 L178.80 280.72 L179.30 280.57 L179.80 280.43 L180.30 281.53 L180.80 281.26 L181.30 281.66 L181.80 281.78 L182.30 282.15 L182.80 282.52 L183.30 282.14 L183.80 281.39 L184.30 282.01 L184.80 281.61 L185.30 281.45 L185.80 282.42 L186.30 283.01 L186.80 282.20 L187.30 282.52 L187.80 282.81 L188.30 283.60 L188.80 283.45 L189.30 283.78 L189.80 284.19 L190.30 283.70 L190.80 284.58 L191.30 284.94 L191.80 283.62 L192.30 285.29 L192.80 285.05 L193.30 284.12 L193.80 284.84 L194.30 285.27 L194.80 285.90 L195.30 285.05 L195.80 285.50 L196.30 286.15 L196.80 286.08 L197.30 286.41 L197.80 285.60 L198.30 285.98 L198.80 285.21 L199.30 286.16 L199.80 286.33 L200.30 286.03 L200.80 286.19 L201.30 285.32 L201.80 286.60 L202.30 286.80 L202.80 286.86 L203.30 286.14 L203.80 286.68 L204.30 285.92 L204.80 287.08 L205.30 287.08 L205.80 286.28 L206.30 285.91 L206.80 286.67 L207.30 286.98 L207.80 287.49 L208.30 287.10 L208.80 286.40 L209.30 287.92 L209.80 286.70 L210.30 288.14 L210.80 287.12 L211.30 287.52 L211.80 288.45 L212.30 287.38 L212.80 287.49 L213.30 288.24 L213.80 288.70 L214.30 288.98 L214.80 288.78 L215.30 289.29 L215.80 288.52 L216.30 289.38 L216.80 287.85 L217.30 288.11 L217.50 288.66" fill="none" stroke="#000" stroke-width="2.20" stroke-linejoin="round" stroke-linecap="round" />
<path d="M48.80 322.03 L49.40 322.51 L50.00 322.53 L50.60 321.17 L51.20 320.83 L51.80 321.77 L52.40 321.51 L53.00 322.91 L53.60 322.60 L54.20 322.36 L54.80 322.25 L55.40 322.52 L56.00 321.18 L56.60 321.94 L57.20 321.22 L57.80 323.16 L58.40 320.95 L59.00 322.93 L59.60 320.99 L60.20 322.59 L60.40 318.00 L60.60 298.66 L61.10 296.00 L61.60 295.07 L62.10 292.13 L62.60 290.97 L63.10 291.06 L63.60 288.68 L64.10 286.62 L64.60 287.45 L65.10 286.59 L65.60 284.29 L66.10 284.35 L66.60 283.25 L67.10 283.07 L67.60 283.08 L68.10 281.45 L68.60 281.81 L69.10 279.86 L69.60 279.48 L70.10 280.18 L70.60 278.80 L71.10 278.31 L71.60 278.15 L72.10 277.42 L72.60 276.74 L73.10 275.55 L73.60 276.45 L74.10 276.44 L74.60 275.96 L75.10 274.82 L75.60 273.69 L76.10 273.20 L76.60 273.36 L77.10 272.83 L77.60 271.23 L78.10 271.00 L78.60 270.78 L79.10 270.61 L79.60 270.75 L80.10 269.68 L80.60 268.29 L81.10 269.44 L81.60 268.22 L82.10 267.97 L82.60 266.95 L83.10 266.94 L83.60 266.45 L84.10 266.81 L84.60 265.07 L85.10 265.57 L85.60 264.43 L86.10 265.08 L86.60 263.38 L87.10 263.49 L87.60 263.25 L88.10 263.47 L88.60 261.93 L89.10 262.39 L89.60 261.54 L90.10 261.33 L90.60 261.37 L91.10 261.98 L91.60 260.66 L92.10 261.24 L92.60 259.29 L93.10 260.43 L93.60 258.93 L94.10 258.21 L94.60 258.95 L95.10 258.90 L95.60 256.71 L96.10 256.86 L96.60 257.49 L97.10 256.27 L97.60 255.71 L98.10 254.89 L98.60 254.60 L99.10 255.42 L99.60 255.81 L100.10 255.52 L100.60 254.21 L101.10 252.95 L101.60 253.25 L102.10 253.90 L102.60 253.72 L103.10 253.08 L103.60 251.99 L104.10 252.29 L104.60 251.86 L105.10 251.82 L105.60 250.72 L106.10 251.72 L106.60 251.23 L107.10 249.37 L107.60 249.24 L108.10 250.02 L108.60 248.45 L109.10 249.42 L109.60 248.21 L110.10 248.24 L110.60 247.96 L111.10 246.70 L111.60 246.59 L112.10 246.32 L112.60 246.93 L113.10 246.65 L113.60 245.18 L114.10 246.30 L114.60 244.96 L115.10 244.18 L115.60 244.15 L116.10 244.84 L116.60 243.62 L117.10 243.40 L117.60 243.70 L118.10 243.55 L118.30 243.08 L118.70 240.80 L120.00 256.58 L120.50 260.45 L121.00 264.30 L121.50 264.84 L122.00 264.70 L122.50 264.70 L123.00 265.27 L123.50 266.48 L124.00 266.65 L124.50 266.01 L125.00 267.37 L125.50 267.72 L126.00 267.58 L126.50 267.86 L127.00 268.03 L127.50 267.53 L128.00 268.20 L128.50 267.70 L129.00 267.46 L129.50 268.19 L130.00 268.41 L130.50 269.82 L131.00 269.68 L131.50 269.71 L132.00 270.14 L132.50 269.52 L133.00 270.51 L133.50 271.04 L134.00 270.69 L134.50 270.59 L135.00 271.01 L135.50 270.94 L136.00 271.63 L136.50 270.66 L137.00 270.60 L137.50 271.04 L138.00 271.79 L138.50 271.99 L139.00 271.90 L139.50 272.51 L140.00 271.61 L140.50 271.14 L141.00 272.12 L141.50 272.20 L142.00 271.90 L142.50 272.96 L143.00 272.56 L143.50 272.57 L144.00 272.93 L144.50 274.25 L145.00 272.77 L145.50 273.62 L146.00 273.70 L146.50 273.77 L147.00 274.41 L147.50 274.25 L148.00 275.72 L148.50 275.18 L149.00 275.75 L149.50 274.99 L150.00 275.74 L150.50 276.19 L151.00 276.80 L151.50 275.91 L152.00 276.46 L152.50 277.33 L153.00 277.44 L153.50 276.48 L154.00 277.16 L154.50 277.67 L155.00 277.11 L155.50 277.69 L156.00 277.73 L156.50 278.32 L157.00 277.59 L157.50 277.83 L158.00 277.25 L158.50 277.97 L159.00 277.28 L159.50 277.66 L160.00 277.49 L160.50 277.49 L161.00 277.28 L161.50 277.56 L162.00 278.26 L162.50 277.88 L163.00 277.65 L163.50 279.17 L164.00 278.40 L164.50 279.74 L165.00 279.31 L165.50 279.11 L166.00 280.17 L166.50 280.40 L167.00 279.55 L167.50 279.39 L168.00 280.51 L168.50 281.07 L169.00 280.84 L169.50 281.34 L170.00 280.86 L170.50 281.41 L171.00 280.95 L171.50 281.38 L172.00 281.49 L172.50 281.66 L173.00 281.84 L173.50 282.71 L174.00 281.70 L174.50 281.88 L175.00 282.08 L175.50 283.47 L176.00 282.75 L176.50 281.97 L177.00 283.44 L177.50 283.54 L178.00 283.47 L178.50 282.65 L179.00 283.33 L179.50 282.58 L180.00 282.32 L180.50 283.68 L181.00 283.68 L181.50 282.63 L182.00 283.91 L182.50 282.46 L183.00 283.07 L183.50 282.65 L184.00 283.05 L184.50 283.16 L185.00 284.28 L185.50 283.66 L186.00 283.60 L186.50 283.73 L187.00 284.11 L187.50 285.25 L188.00 284.94 L188.50 284.18 L189.00 285.38 L189.50 285.27 L190.00 285.26 L190.50 285.55 L191.00 285.92 L191.50 286.34 L192.00 285.95 L192.50 286.32 L193.00 286.15 L193.50 286.58 L194.00 286.26 L194.50 286.42 L195.00 286.71 L195.50 287.17 L196.00 286.47 L196.50 287.72 L197.00 287.01 L197.50 287.72 L198.00 287.47 L198.50 287.99 L199.00 287.52 L199.50 287.07 L200.00 287.03 L200.50 287.41 L201.00 287.70 L201.50 287.90 L202.00 286.67 L202.50 286.60 L203.00 286.75 L203.50 286.78 L204.00 286.81 L204.50 286.81 L205.00 287.34 L205.50 287.19 L206.00 288.32 L206.50 288.30 L207.00 289.04 L207.50 289.14 L208.00 288.87 L208.50 289.35 L209.00 287.80 L209.50 288.27 L210.00 289.64 L210.50 288.94 L211.00 288.56 L211.50 289.66 L212.00 289.15 L212.50 289.46 L213.00 289.14 L213.50 289.09 L214.00 288.89 L214.50 289.89 L215.00 290.57 L215.50 290.68 L216.00 290.32 L216.50 290.66 L217.00 289.65 L217.50 289.54" fill="none" stroke="#000" stroke-width="2.20" stroke-linejoin="round" stroke-linecap="round" />
<path d="M304.80 327.39 L305.40 327.12 L306.00 327.22 L306.60 327.39 L307.20 326.61 L307.80 327.06 L308.40 327.39 L309.00 327.35 L309.60 326.99 L310.20 326.50 L310.80 326.79 L311.40 327.49 L312.00 326.42 L312.60 326.68 L313.20 327.44 L313.80 326.84 L314.40 326.55 L315.00 326.68 L315.60 327.39 L316.20 326.70 L316.70 326.00 L316.80 315.29 L317.30 313.00 L317.80 310.93 L318.30 308.71 L318.80 306.56 L319.30 305.17 L319.80 303.15 L320.30 301.63 L320.80 300.19 L321.30 299.09 L321.80 297.40 L322.30 296.31 L322.80 294.61 L323.30 293.27 L323.80 291.92 L324.30 291.15 L324.80 290.02 L325.30 288.37 L325.80 287.19 L326.30 285.87 L326.80 285.16 L327.30 283.79 L327.80 282.56 L328.30 281.82 L328.80 280.71 L329.30 279.54 L329.80 278.29 L330.30 277.60 L330.80 276.53 L331.30 275.44 L331.80 274.27 L332.30 273.84 L332.80 272.84 L333.30 271.78 L333.80 271.07 L334.30 269.87 L334.80 268.81 L335.30 267.76 L335.80 267.24 L336.30 266.32 L336.80 265.42 L337.30 264.98 L337.80 264.05 L338.30 262.74 L338.80 262.48 L339.30 261.08 L339.80 260.77 L340.30 259.77 L340.80 259.31 L341.30 258.74 L341.80 257.72 L342.30 257.16 L342.80 255.97 L343.30 255.70 L343.80 254.64 L344.30 254.20 L344.80 253.45 L345.30 252.62 L345.80 252.45 L346.30 251.36 L346.80 250.85 L347.30 250.12 L347.80 249.92 L348.30 249.08 L348.80 248.31 L349.30 247.72 L349.80 247.29 L350.30 246.93 L350.80 246.03 L351.30 245.50 L351.80 245.42 L352.30 244.79 L352.80 244.00 L353.30 243.61 L353.80 242.98 L354.30 242.59 L354.80 242.18 L355.30 241.58 L355.80 241.09 L356.30 240.65 L356.80 240.24 L357.30 239.97 L357.80 239.76 L358.30 239.15 L358.80 238.58 L359.30 237.84 L359.80 237.55 L360.30 237.45 L360.80 236.89 L361.30 236.80 L361.80 236.45 L362.30 235.63 L362.80 235.30 L363.30 234.87 L363.80 234.77 L364.30 234.00 L364.80 233.76 L365.30 233.83 L365.80 233.13 L366.30 233.20 L366.80 232.46 L367.30 232.44 L367.80 231.85 L368.30 231.27 L368.80 231.29 L369.30 230.72 L369.80 230.90 L370.30 230.45 L370.80 230.03 L371.30 230.01 L371.80 229.46 L372.30 229.46 L372.80 229.01 L373.30 228.35 L373.80 228.16 L374.30 228.28 L374.80 227.49 L375.30 227.85 L375.80 226.93 L376.30 227.18 L376.80 226.83 L377.20 226.49 L377.60 224.00 L378.40 234.50 L379.00 234.87 L379.50 235.16 L380.00 235.29 L380.50 235.54 L381.00 235.65 L381.50 236.44 L382.00 236.93 L382.50 236.83 L383.00 237.52 L383.50 237.45 L384.00 237.63 L384.50 238.37 L385.00 238.76 L385.50 238.39 L386.00 239.31 L386.50 239.16 L387.00 239.81 L387.50 239.71 L388.00 240.55 L388.50 240.31 L389.00 240.48 L389.50 240.63 L390.00 240.96 L390.50 241.20 L391.00 242.05 L391.50 241.67 L392.00 242.02 L392.50 242.38 L393.00 242.56 L393.50 243.33 L394.00 242.98 L394.50 243.78 L395.00 243.78 L395.50 243.87 L396.00 244.20 L396.50 244.69 L397.00 244.73 L397.50 245.10 L398.00 245.35 L398.50 245.72 L399.00 246.11 L399.50 246.03 L400.00 246.54 L400.50 246.87 L401.00 246.79 L401.50 247.41 L402.00 247.11 L402.50 247.69 L403.00 247.82 L403.50 247.88 L404.00 248.55 L404.50 248.95 L405.00 248.89 L405.50 249.03 L406.00 249.71 L406.50 250.01 L407.00 249.96 L407.50 250.14 L408.00 250.44 L408.50 250.72 L409.00 250.94 L409.50 251.05 L410.00 251.45 L410.50 251.68 L411.00 251.82 L411.50 251.96 L412.00 252.05 L412.50 252.15 L413.00 252.61 L413.50 252.67 L414.00 253.02 L414.50 253.00 L415.00 253.80 L415.50 253.39 L416.00 254.21 L416.50 254.17 L417.00 254.65 L417.50 254.84 L418.00 254.48 L418.50 254.77 L419.00 255.55 L419.50 255.49 L420.00 255.23 L420.50 255.57 L421.00 255.64 L421.50 256.00 L422.00 256.02 L422.50 256.18 L423.00 256.38 L423.50 256.92 L424.00 257.31 L424.50 257.34 L425.00 257.66 L425.50 257.84 L426.00 257.62 L426.50 258.26 L427.00 258.29 L427.50 258.41 L428.00 259.03 L428.50 258.82 L429.00 259.19 L429.50 259.44 L430.00 259.39 L430.50 259.31 L431.00 259.53 L431.50 259.79 L432.00 259.89 L432.50 260.24 L433.00 260.15 L433.50 260.89 L434.00 261.07 L434.50 261.14 L435.00 260.90 L435.50 261.16 L436.00 261.88 L436.50 262.04 L437.00 262.09 L437.50 262.38 L438.00 262.02 L438.50 262.26 L439.00 262.55 L439.50 262.75 L440.00 262.84 L440.50 262.91 L441.00 263.53 L441.50 263.20 L442.00 263.68 L442.50 264.04 L443.00 263.68 L443.50 263.99 L444.00 264.19 L444.50 264.28 L445.00 264.95 L445.50 265.08 L446.00 264.65 L446.50 264.76 L447.00 265.35 L447.50 265.43 L448.00 265.22 L448.50 266.04 L449.00 266.21 L449.50 266.12 L450.00 265.90 L450.50 266.14 L451.00 266.82 L451.50 266.85 L452.00 266.82 L452.50 267.37 L453.00 266.81 L453.50 267.48 L454.00 267.75 L454.50 267.90 L455.00 267.47 L455.50 268.11 L456.00 268.15 L456.50 268.36 L457.00 268.14 L457.50 268.93 L458.00 269.09 L458.50 268.56 L459.00 269.06 L459.50 269.19 L460.00 269.27 L460.50 269.33 L461.00 269.40 L461.50 269.95 L462.00 269.92 L462.50 270.02 L463.00 270.21 L463.50 270.18 L464.00 270.82 L464.50 270.86 L465.00 270.61 L465.50 270.79 L466.00 271.11 L466.50 271.34 L467.00 271.70 L467.50 271.86 L468.00 271.32 L468.50 272.10 L469.00 271.57 L469.50 272.16 L470.00 272.46 L470.50 272.13 L471.00 272.31 L471.50 272.33 L472.00 272.76 L472.50 273.22 L473.00 272.69 L473.50 273.44 L474.00 273.29 L474.50 273.86 L475.00 273.70 L475.50 273.77 L476.00 273.76 L476.50 274.35 L477.00 274.19 L477.50 274.51 L478.00 274.62 L478.50 274.89 L479.00 274.61 L479.50 274.59 L479.70 274.71" fill="none" stroke="#000" stroke-width="1.90" stroke-linejoin="round" stroke-linecap="round" />
<path d="M304.80 327.20 L305.40 327.83 L306.00 327.76 L306.60 327.57 L307.20 327.26 L307.80 327.95 L308.40 327.97 L309.00 327.61 L309.60 327.61 L310.20 327.28 L310.80 327.00 L311.40 327.45 L312.00 327.70 L312.60 327.08 L313.20 327.95 L313.80 327.28 L314.40 327.28 L315.00 327.05 L315.60 328.20 L316.20 327.89 L316.70 326.00 L316.80 315.61 L317.30 313.00 L317.80 310.42 L318.30 308.65 L318.80 306.95 L319.30 304.98 L319.80 303.95 L320.30 302.01 L320.80 300.38 L321.30 299.42 L321.80 297.53 L322.30 296.73 L322.80 295.07 L323.30 293.84 L323.80 292.43 L324.30 291.29 L324.80 289.87 L325.30 288.58 L325.80 288.00 L326.30 286.41 L326.80 285.67 L327.30 284.16 L327.80 283.60 L328.30 282.47 L328.80 281.30 L329.30 280.26 L329.80 279.09 L330.30 278.16 L330.80 276.73 L331.30 275.98 L331.80 275.25 L332.30 273.85 L332.80 273.41 L333.30 272.45 L333.80 271.20 L334.30 270.27 L334.80 269.44 L335.30 268.52 L335.80 268.09 L336.30 266.82 L336.80 265.74 L337.30 264.97 L337.80 264.60 L338.30 264.00 L338.80 262.87 L339.30 262.09 L339.80 261.38 L340.30 260.77 L340.80 259.66 L341.30 259.21 L341.80 258.45 L342.30 257.79 L342.80 256.79 L343.30 256.10 L343.80 255.54 L344.30 255.28 L344.80 254.21 L345.30 253.74 L345.80 252.90 L346.30 252.13 L346.80 251.48 L347.30 251.40 L347.80 250.78 L348.30 249.91 L348.80 249.55 L349.30 248.98 L349.80 248.58 L350.30 248.08 L350.80 247.15 L351.30 247.03 L351.80 246.49 L352.30 245.72 L352.80 245.42 L353.30 244.64 L353.80 244.07 L354.30 243.49 L354.80 243.45 L355.30 242.48 L355.80 241.95 L356.30 242.00 L356.80 241.52 L357.30 240.87 L357.80 240.67 L358.30 239.68 L358.80 239.39 L359.30 238.98 L359.80 238.65 L360.30 238.06 L360.80 237.57 L361.30 237.35 L361.80 237.34 L362.30 237.01 L362.80 236.45 L363.30 235.88 L363.80 235.34 L364.30 235.46 L364.80 234.79 L365.30 234.57 L365.80 233.72 L366.30 233.50 L366.80 233.60 L367.30 233.23 L367.80 232.95 L368.30 232.43 L368.80 231.99 L369.30 231.78 L369.80 231.66 L370.30 230.97 L370.80 230.83 L371.30 230.34 L371.80 230.39 L372.30 229.56 L372.80 229.73 L373.30 229.63 L373.80 228.68 L374.30 228.80 L374.80 228.55 L375.30 228.42 L375.80 227.96 L376.30 227.47 L376.80 227.32 L377.20 227.50 L377.60 224.88 L378.40 235.90 L379.00 236.80 L379.50 236.48 L380.00 236.75 L380.50 237.05 L381.00 237.30 L381.50 237.93 L382.00 237.98 L382.50 238.86 L383.00 238.98 L383.50 238.85 L384.00 239.47 L384.50 239.59 L385.00 240.01 L385.50 240.08 L386.00 240.32 L386.50 240.62 L387.00 241.05 L387.50 241.60 L388.00 241.75 L388.50 241.62 L389.00 242.42 L389.50 242.83 L390.00 243.02 L390.50 243.30 L391.00 242.94 L391.50 243.57 L392.00 243.51 L392.50 244.33 L393.00 244.12 L393.50 244.81 L394.00 244.70 L394.50 245.32 L395.00 245.27 L395.50 245.30 L396.00 245.84 L396.50 246.03 L397.00 246.75 L397.50 246.52 L398.00 246.93 L398.50 247.22 L399.00 247.79 L399.50 247.35 L400.00 248.00 L400.50 248.17 L401.00 248.59 L401.50 249.02 L402.00 248.73 L402.50 249.29 L403.00 249.38 L403.50 249.65 L404.00 249.49 L404.50 250.32 L405.00 250.69 L405.50 250.42 L406.00 250.62 L406.50 251.40 L407.00 250.92 L407.50 251.12 L408.00 251.34 L408.50 252.16 L409.00 252.35 L409.50 252.32 L410.00 252.68 L410.50 252.42 L411.00 253.14 L411.50 253.20 L412.00 253.48 L412.50 253.59 L413.00 253.82 L413.50 253.90 L414.00 253.97 L414.50 254.49 L415.00 254.55 L415.50 255.13 L416.00 255.43 L416.50 255.56 L417.00 255.56 L417.50 255.59 L418.00 255.91 L418.50 256.20 L419.00 256.52 L419.50 256.99 L420.00 256.49 L420.50 257.00 L421.00 257.21 L421.50 257.59 L422.00 257.93 L422.50 258.04 L423.00 258.11 L423.50 258.41 L424.00 258.54 L424.50 258.88 L425.00 258.95 L425.50 259.13 L426.00 258.97 L426.50 259.70 L427.00 259.46 L427.50 259.83 L428.00 260.19 L428.50 260.49 L429.00 260.70 L429.50 260.10 L430.00 260.53 L430.50 260.71 L431.00 260.96 L431.50 260.95 L432.00 261.45 L432.50 261.26 L433.00 261.62 L433.50 262.31 L434.00 262.33 L434.50 262.28 L435.00 262.18 L435.50 263.04 L436.00 263.01 L436.50 262.79 L437.00 263.07 L437.50 263.49 L438.00 263.70 L438.50 263.53 L439.00 264.26 L439.50 263.93 L440.00 264.05 L440.50 264.69 L441.00 264.31 L441.50 264.90 L442.00 264.68 L442.50 265.17 L443.00 265.08 L443.50 265.33 L444.00 265.95 L444.50 265.74 L445.00 265.88 L445.50 266.19 L446.00 266.09 L446.50 266.16 L447.00 266.50 L447.50 266.57 L448.00 266.67 L448.50 267.45 L449.00 266.87 L449.50 267.65 L450.00 267.91 L450.50 267.89 L451.00 267.50 L451.50 268.04 L452.00 267.83 L452.50 268.45 L453.00 268.68 L453.50 268.47 L454.00 268.44 L454.50 269.02 L455.00 268.82 L455.50 269.15 L456.00 269.42 L456.50 269.93 L457.00 269.66 L457.50 269.63 L458.00 270.30 L458.50 270.48 L459.00 270.40 L459.50 270.17 L460.00 270.43 L460.50 270.75 L461.00 271.02 L461.50 270.91 L462.00 271.52 L462.50 271.71 L463.00 271.92 L463.50 272.04 L464.00 271.49 L464.50 272.09 L465.00 271.84 L465.50 272.64 L466.00 272.67 L466.50 272.82 L467.00 272.51 L467.50 272.55 L468.00 273.30 L468.50 273.28 L469.00 273.44 L469.50 273.46 L470.00 273.87 L470.50 273.64 L471.00 273.73 L471.50 273.94 L472.00 274.04 L472.50 274.45 L473.00 274.80 L473.50 274.29 L474.00 274.43 L474.50 274.92 L475.00 275.20 L475.50 274.95 L476.00 275.15 L476.50 275.12 L477.00 275.24 L477.50 275.75 L478.00 276.04 L478.50 276.15 L479.00 275.90 L479.50 275.99 L479.70 276.71" fill="none" stroke="#000" stroke-width="1.90" stroke-linejoin="round" stroke-linecap="round" />
<path d="M304.80 328.85 L305.40 327.87 L306.00 327.73 L306.60 328.90 L307.20 327.92 L307.80 327.84 L308.40 328.48 L309.00 328.11 L309.60 328.77 L310.20 327.98 L310.80 328.85 L311.40 328.08 L312.00 328.42 L312.60 328.82 L313.20 328.52 L313.80 328.81 L314.40 328.55 L315.00 327.76 L315.60 328.76 L316.20 328.41 L316.70 326.00 L316.80 315.21 L317.30 312.74 L317.80 311.09 L318.30 309.00 L318.80 307.53 L319.30 305.81 L319.80 304.44 L320.30 302.72 L320.80 301.42 L321.30 299.99 L321.80 298.37 L322.30 297.50 L322.80 295.74 L323.30 294.80 L323.80 293.70 L324.30 292.31 L324.80 290.80 L325.30 290.16 L325.80 288.96 L326.30 287.54 L326.80 286.39 L327.30 285.68 L327.80 284.30 L328.30 283.90 L328.80 282.58 L329.30 281.57 L329.80 280.47 L330.30 279.62 L330.80 278.79 L331.30 277.38 L331.80 276.46 L332.30 275.66 L332.80 274.54 L333.30 273.84 L333.80 272.91 L334.30 271.97 L334.80 271.28 L335.30 270.34 L335.80 269.21 L336.30 269.03 L336.80 267.79 L337.30 267.06 L337.80 266.27 L338.30 265.89 L338.80 265.16 L339.30 264.11 L339.80 263.31 L340.30 262.39 L340.80 262.24 L341.30 261.04 L341.80 260.61 L342.30 259.79 L342.80 259.10 L343.30 258.45 L343.80 257.67 L344.30 256.90 L344.80 256.60 L345.30 256.13 L345.80 255.39 L346.30 254.46 L346.80 254.21 L347.30 253.18 L347.80 252.86 L348.30 252.59 L348.80 252.11 L349.30 251.26 L349.80 251.01 L350.30 250.25 L350.80 249.77 L351.30 249.32 L351.80 249.12 L352.30 248.47 L352.80 247.81 L353.30 247.52 L353.80 247.00 L354.30 246.34 L354.80 246.19 L355.30 245.76 L355.80 245.16 L356.30 244.94 L356.80 243.84 L357.30 243.73 L357.80 243.37 L358.30 242.72 L358.80 242.15 L359.30 242.08 L359.80 241.45 L360.30 240.90 L360.80 240.31 L361.30 240.53 L361.80 239.67 L362.30 239.09 L362.80 238.74 L363.30 238.36 L363.80 238.38 L364.30 237.50 L364.80 237.17 L365.30 236.66 L365.80 236.54 L366.30 235.99 L366.80 235.72 L367.30 235.63 L367.80 235.42 L368.30 235.01 L368.80 234.13 L369.30 234.04 L369.80 234.06 L370.30 233.18 L370.80 232.98 L371.30 232.85 L371.80 232.44 L372.30 232.36 L372.80 231.99 L373.30 231.47 L373.80 230.98 L374.30 230.63 L374.80 230.32 L375.30 229.86 L375.80 229.97 L376.30 229.32 L376.80 229.55 L377.20 229.16 L377.60 227.50 L378.40 238.50 L379.00 239.23 L379.50 239.89 L380.00 240.26 L380.50 240.11 L381.00 240.75 L381.50 240.67 L382.00 241.54 L382.50 241.21 L383.00 241.99 L383.50 242.55 L384.00 242.71 L384.50 242.50 L385.00 243.01 L385.50 242.96 L386.00 243.39 L386.50 244.08 L387.00 244.31 L387.50 243.93 L388.00 244.49 L388.50 244.97 L389.00 244.86 L389.50 245.63 L390.00 245.97 L390.50 245.96 L391.00 246.08 L391.50 246.73 L392.00 246.72 L392.50 246.72 L393.00 247.05 L393.50 247.21 L394.00 248.01 L394.50 248.00 L395.00 248.39 L395.50 248.74 L396.00 249.11 L396.50 248.73 L397.00 249.14 L397.50 249.76 L398.00 249.91 L398.50 249.85 L399.00 250.30 L399.50 250.17 L400.00 250.37 L400.50 250.52 L401.00 251.01 L401.50 251.12 L402.00 251.58 L402.50 252.17 L403.00 251.74 L403.50 252.29 L404.00 252.75 L404.50 252.76 L405.00 252.93 L405.50 253.34 L406.00 252.96 L406.50 253.92 L407.00 253.93 L407.50 254.24 L408.00 254.47 L408.50 254.10 L409.00 254.29 L409.50 254.59 L410.00 255.06 L410.50 255.62 L411.00 255.81 L411.50 255.62 L412.00 255.99 L412.50 256.30 L413.00 256.18 L413.50 256.89 L414.00 257.08 L414.50 257.11 L415.00 257.45 L415.50 257.58 L416.00 257.66 L416.50 257.60 L417.00 257.77 L417.50 257.94 L418.00 258.00 L418.50 258.90 L419.00 258.59 L419.50 258.58 L420.00 259.01 L420.50 259.04 L421.00 259.52 L421.50 259.62 L422.00 259.70 L422.50 260.14 L423.00 260.28 L423.50 260.43 L424.00 260.99 L424.50 260.78 L425.00 261.17 L425.50 261.63 L426.00 261.89 L426.50 261.61 L427.00 261.54 L427.50 262.45 L428.00 262.29 L428.50 262.25 L429.00 262.36 L429.50 262.64 L430.00 262.88 L430.50 262.93 L431.00 263.05 L431.50 263.99 L432.00 264.04 L432.50 263.65 L433.00 264.13 L433.50 264.57 L434.00 264.51 L434.50 264.35 L435.00 264.75 L435.50 264.96 L436.00 265.57 L436.50 265.48 L437.00 265.56 L437.50 265.87 L438.00 265.59 L438.50 266.27 L439.00 266.55 L439.50 266.61 L440.00 266.54 L440.50 266.65 L441.00 266.61 L441.50 266.84 L442.00 267.07 L442.50 267.48 L443.00 267.91 L443.50 267.63 L444.00 268.01 L444.50 268.31 L445.00 268.47 L445.50 268.15 L446.00 269.04 L446.50 268.94 L447.00 268.88 L447.50 269.00 L448.00 269.52 L448.50 269.89 L449.00 269.57 L449.50 269.79 L450.00 270.08 L450.50 269.94 L451.00 270.28 L451.50 270.86 L452.00 270.73 L452.50 271.10 L453.00 270.82 L453.50 271.46 L454.00 271.55 L454.50 271.27 L455.00 271.67 L455.50 271.95 L456.00 272.02 L456.50 272.20 L457.00 272.07 L457.50 272.48 L458.00 272.48 L458.50 272.99 L459.00 272.80 L459.50 273.44 L460.00 273.28 L460.50 273.15 L461.00 273.45 L461.50 273.38 L462.00 274.02 L462.50 273.62 L463.00 274.22 L463.50 274.13 L464.00 274.66 L464.50 274.29 L465.00 274.88 L465.50 275.06 L466.00 274.82 L466.50 274.89 L467.00 275.23 L467.50 275.60 L468.00 275.44 L468.50 275.38 L469.00 275.87 L469.50 276.31 L470.00 275.94 L470.50 276.71 L471.00 276.51 L471.50 276.38 L472.00 276.47 L472.50 276.83 L473.00 277.06 L473.50 276.96 L474.00 277.03 L474.50 277.51 L475.00 277.45 L475.50 277.75 L476.00 277.89 L476.50 278.23 L477.00 278.27 L477.50 278.13 L478.00 278.23 L478.50 278.92 L479.00 278.41 L479.50 278.61 L479.70 278.62" fill="none" stroke="#000" stroke-width="1.90" stroke-linejoin="round" stroke-linecap="round" />
</svg>
</body></html>
